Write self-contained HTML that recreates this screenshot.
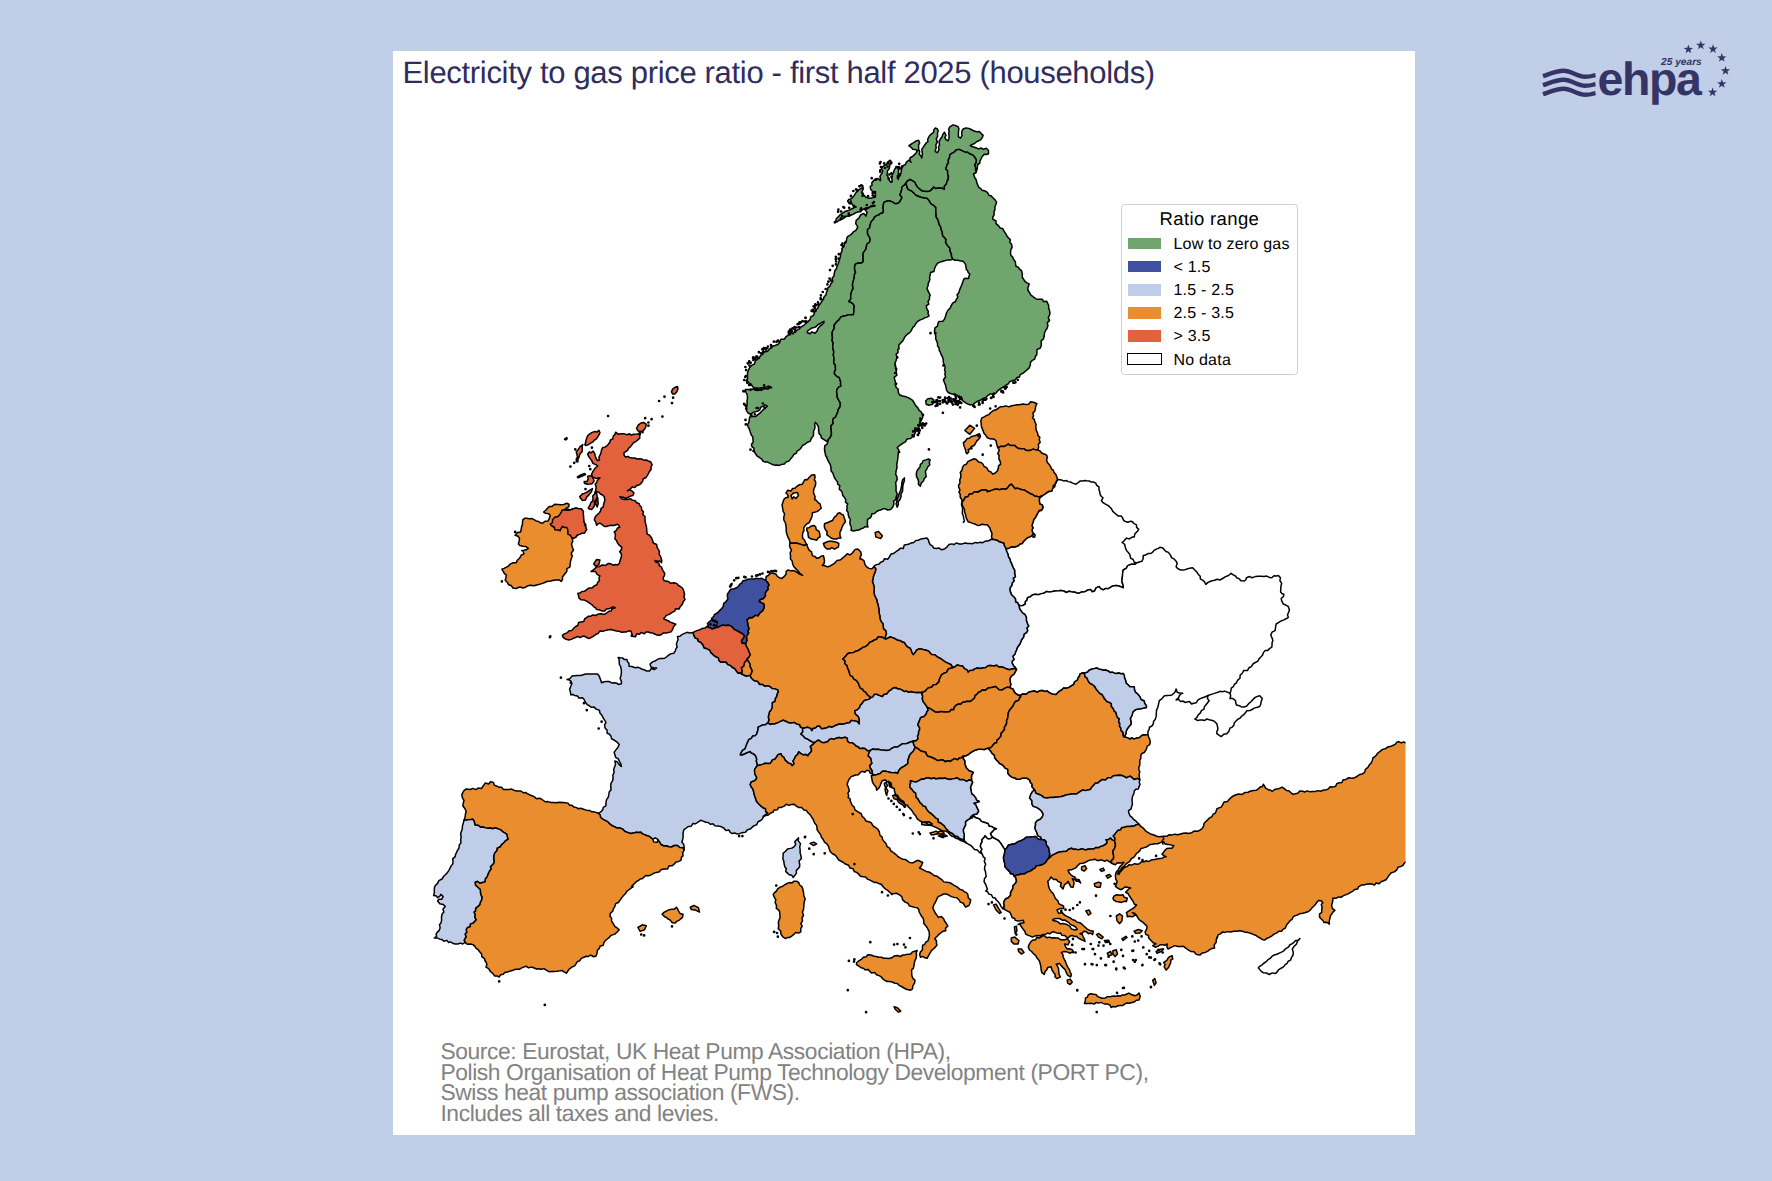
<!DOCTYPE html>
<html><head><meta charset="utf-8">
<style>
html,body{margin:0;padding:0}
body{width:1772px;height:1181px;background:#c1cee7;position:relative;overflow:hidden;font-family:"Liberation Sans",sans-serif;text-rendering:geometricPrecision}
#panel{position:absolute;left:393px;top:51px;width:1022px;height:1084px;background:#fff}
#title{position:absolute;left:402.5px;top:55px;font-size:31px;line-height:36px;color:#2f2d5e;white-space:nowrap;letter-spacing:-0.32px}
#map{position:absolute;left:0;top:0}
.c{stroke:#000;stroke-width:1.5;stroke-linejoin:round}
.l{stroke:#000;stroke-width:1.5;fill:none;stroke-linejoin:round}
.dot{stroke:#000;stroke-width:2.7;stroke-linecap:round;fill:none}
#legend{position:absolute;box-sizing:border-box;left:1120.9px;top:204.3px;width:177px;height:171px;border:1.2px solid #cfcfcf;border-radius:3.5px;background:#fff}
#legend .t{position:absolute;left:0;width:100%;top:3.4px;text-align:center;font-size:18.5px;line-height:20px;color:#000;letter-spacing:0.36px}
#legend .r{position:absolute;left:6px;height:12px}
#legend .s{position:absolute;left:0;top:0;width:33px;height:11.5px}
#legend .x{position:absolute;left:45.6px;top:-1.9px;font-size:16px;line-height:18px;white-space:nowrap;color:#000;letter-spacing:0.21px}
#src{position:absolute;left:440.4px;top:1040.9px;font-size:22.8px;line-height:20.75px;color:#828282;white-space:nowrap;letter-spacing:-0.386px}
#logo{position:absolute;left:0;top:0}
</style></head><body>
<div id="panel"></div>
<div id="title">Electricity to gas price ratio - first half 2025 (households)</div>
<svg id="map" width="1772" height="1181" viewBox="0 0 1772 1181">
<defs><clipPath id="cp"><rect x="393" y="51" width="1012.5" height="1084"/></clipPath></defs>
<g clip-path="url(#cp)">
<path class="c" fill="#ffffff" d="M1039.7,497.2 1041.47,496.76 1043.1,495.1 1045.14,494 1047.4,492.2 1049.33,491.58 1051.6,491.3 1052.9,487.9 1054.9,486.57 1055,484.5 1056.39,482.27 1057.5,479.5 1060.68,479.79 1063.8,480.9 1066.52,480.6 1068.21,481.62 1070.4,482 1072.62,483.15 1075.9,484.2 1077.47,483.22 1080.26,480.95 1082.5,480.9 1085,480.57 1086.56,480.82 1089.1,480.9 1091.19,482.07 1093.48,482.04 1095.7,483.1 1096.72,485.4 1098.98,486.97 1099,489.7 1099.71,491.63 1100.03,494.04 1101.2,496.3 1103,497.89 1101.41,500.72 1103.4,502.9 1105.52,504.06 1108.24,505.55 1110,507.3 1111.51,508.82 1112.8,511.34 1114.4,512.8 1116.25,514.45 1118.32,516.1 1121,516.1 1122.58,517.87 1123.78,520.67 1125.5,521.6 1127.81,522.2 1130.04,521.37 1132.1,521.6 1134.07,523.54 1136.5,524.9 1136.61,527.39 1138.7,529.3 1137.19,531.55 1134.76,534 1134.3,537 1132.24,537.05 1129.36,538.92 1126.6,538.1 1124.08,540.85 1122.1,542.5 1124.7,544.42 1125.5,548 1126.64,550.63 1128.3,552.54 1129.9,554.6 1130.56,558.11 1133.1,559.47 1134.3,562.3 1136.5,563 1135.16,564.14 1131.49,564.22 1129.58,564.88 1127.7,565.6 1126.47,568.03 1123.3,570 1122.8,572.03 1122.48,575.92 1122.1,578.8 1121.92,581.85 1122.98,584.53 1123.3,587.7 1121.25,586.79 1119.27,586.21 1116.6,585.5 1113.93,585.66 1112.35,586.14 1110,587.7 1107.86,588.81 1105.53,588.38 1103.4,589.9 1100.86,588.77 1099,586.6 1096.06,587.85 1094.6,591 1092.24,591.82 1090.58,589.6 1088,589.9 1085.96,591.2 1084.01,591.9 1081.3,592.08 1079.2,593.2 1076.51,592.97 1075.09,592.14 1072.6,592.1 1069.17,591.19 1066.45,592.49 1063.8,591 1061.11,590.45 1058.2,590.8 1055,591 1052.3,591.6 1049.7,592.11 1046.78,591.42 1044,593.2 1041.36,593.63 1038.62,594.66 1035.2,594.3 1032.27,595.05 1030.27,596.84 1027.5,597.6 1026.97,600.28 1025.39,601.48 1025.3,604.2 1022.76,605.46 1020.58,605.82 1018.7,605.3 1017.7,602.72 1015.68,601.94 1015.4,598.7 1013.63,596.71 1011.47,594.68 1010.37,591.88 1009.9,589.9 1010.17,587.59 1011.65,585.86 1012.1,583.3 1014.01,580.89 1013.23,578.29 1015.4,576.6 1014.64,573.68 1014.63,570.13 1013.2,567.8 1012.2,565.39 1011.69,563.95 1010.42,561.35 1009.9,559 1008.58,557.1 1007.8,553.8 1006.6,551.3 1005.9,548.5 1008.4,548.5 1010.62,547.02 1012.6,546.8 1014.52,546.92 1016.9,546.3 1018.52,545.55 1020.3,543.8 1022.14,543.61 1023.6,541.3 1026.2,538.7 1028.26,537.38 1030.4,536.6 1033.4,534.5 1032.5,532 1032.02,529.9 1033,527.7 1032.04,526.16 1032.5,523.5 1033.31,521.43 1033.8,519.3 1035.2,517.95 1036.3,515.9 1038,512.5 1039.53,510.25 1041.4,510.4 1043.1,507.4 1042.3,504.9 1039.7,504 1039.3,500.6 1039.7,497.2Z"/>
<path class="c" fill="#ffffff" d="M1136.5,563 1139.04,562.08 1142,561.2 1143.2,558.45 1143.1,555.7 1145.41,555.08 1148.39,553.4 1150.8,553.5 1152.92,551.91 1154.03,550.4 1156.3,549.1 1158.4,548.35 1159.9,547.28 1162.9,548 1164.81,550.22 1166.06,551.49 1168.4,552.4 1170.44,555.1 1171.7,557.9 1174.1,558.91 1176.1,561.2 1177.24,563.27 1176.1,566.7 1177.86,568.67 1180.5,570 1182.5,570 1184.91,569.7 1187.1,568.9 1189.69,568.33 1192.6,567.8 1194.84,570.08 1197,572.2 1197.96,574.01 1200.19,576.29 1200.3,578.8 1202.61,580.16 1204.48,581.78 1205.8,584.4 1208.07,582.36 1211.3,581 1214.54,580.21 1217.07,579.21 1220.1,579.9 1222.57,578.5 1225.6,576.6 1228.57,575.45 1231.1,573.3 1233.2,574.86 1235.45,575.96 1236.6,577.7 1238.98,578.65 1241.1,580.87 1244.3,581 1245.83,579.77 1246.5,577.7 1249.54,576.57 1251.98,577.74 1255.3,576.6 1258.12,576.21 1260.87,576.22 1264.1,576.6 1266.59,576.07 1269.59,577.43 1271.8,577.7 1274,575.7 1276.42,576.08 1278.4,575.5 1280.45,577.86 1279.93,580.72 1281.7,583.3 1280.96,585.91 1280.78,589.22 1280.6,592.1 1281.91,593.51 1283.9,594.3 1283.42,596.42 1281.21,598.56 1281.7,600.9 1283.17,603.94 1286.1,605.3 1288.19,606.38 1289.4,609.7 1288.79,612.04 1287.51,614.75 1288.3,617.4 1286.51,618.55 1283.79,619.86 1281.7,620.7 1279.17,622.23 1276.2,624 1275.77,625.87 1275.52,627.87 1275.1,630.6 1272.11,632.08 1270.7,635 1271.8,637.34 1272.9,640.5 1272.04,642.77 1272.01,645.36 1271.8,647.1 1269.82,648.36 1267.45,650.62 1265.2,650.4 1263.59,652.36 1262.6,654.9 1260.8,657 1259.01,658.86 1257.67,661.38 1255.3,662.5 1253.17,663.76 1251.32,666.58 1248.7,668 1247.66,670.43 1243.84,670.48 1242.1,673.5 1240.17,675.07 1239.95,678.24 1237.7,680.1 1236.24,683.15 1234.68,684 1233.3,686.7 1231.26,688.2 1230.9,690.91 1230,693.3 1230.7,695.71 1230,698.5 1232.81,698.54 1235.5,700.7 1235.78,703.22 1236.6,705.1 1239.31,705.7 1241,706.7 1243.82,707.01 1246.5,706.2 1248.43,703.93 1250.9,701.8 1253.5,698.9 1255.3,697.4 1257.42,696.4 1259.7,695.7 1262.3,698.5 1261.12,701.53 1260.8,704 1259.7,706.49 1257.5,707.3 1254.8,707.88 1252,709.5 1250.03,710.52 1246.83,710.74 1245.4,712.8 1243.47,714.98 1241.79,716.07 1239.9,718.3 1238,719.14 1236.28,720.77 1234.4,722.7 1233.79,725.38 1232.26,727.05 1230,728.2 1228.76,731.43 1226.7,733.7 1223.69,734.26 1221.2,736.6 1218.56,734.94 1216.8,733.7 1216.89,731.32 1217.9,729.3 1217.59,726.68 1216.8,723.8 1214.58,721.42 1212.4,720.5 1209.34,719.82 1206.9,719 1204.68,720.47 1202.55,720.09 1200.3,719.9 1198.01,720.59 1194.8,719 1196.99,717.43 1198.1,715 1200.2,713.11 1201.4,710.6 1203.95,709.08 1204.4,706.64 1205.8,705.1 1207.44,703.01 1209.1,700.7 1207.45,698.64 1208,695.4 1205.54,696.72 1202.5,697.7 1200.3,698.58 1198.1,699.9 1196.23,702.68 1193.7,703.2 1191.49,704.05 1189.55,701.56 1187.1,702.1 1185.32,702.49 1182.7,701 1180.52,701.62 1178.62,699.33 1176.1,699.9 1178.5,697.94 1179.4,695.5 1181.07,693.69 1182.7,693.3 1179.47,693.08 1177.2,692.2 1176.1,688.9 1175.27,691.61 1173.9,693.3 1171.87,695.05 1170.32,695.35 1167.3,695.5 1164.45,695.81 1161.8,698.8 1159.29,700.64 1158.5,704.3 1157.82,707.25 1156.56,710.12 1156.3,713.1 1156.18,716.38 1155.2,719.4 1153.62,721.15 1153.29,723.86 1151.9,726 1149.49,727.28 1149,729.93 1147.9,731.5 1147.9,734.4 1145.77,734.88 1143.1,734.8 1140.97,736.23 1139.31,737.82 1136.5,738.1 1134.09,738.99 1131.59,737.89 1129.9,739.2 1127.31,737.61 1124.4,737 1125.9,733.7 1126.18,731.05 1127.7,728.2 1129.38,726.06 1130.93,724.43 1131,721.6 1130.32,718.49 1132.1,715.2 1132.87,711.9 1135.4,709.8 1138.18,708.9 1140.9,708.7 1143.46,708.11 1146.4,707.6 1146.39,705.76 1144.65,703.35 1144.2,701 1141.03,699.53 1139.8,696.6 1137.93,694.23 1135.4,692.2 1134.4,689.45 1134.3,686.7 1131.68,686.73 1129.9,686.7 1127.76,684.49 1126.12,683.19 1125.5,680.1 1124.61,677.95 1124.27,675.51 1123.3,673.5 1120.9,673.72 1118.75,673.01 1116.6,673.5 1114.41,673.17 1112.36,672.16 1110,672.4 1108.23,670.95 1105.38,670.06 1103.4,670.2 1101.14,669.51 1099.06,669.13 1096.8,668 1094.13,668.62 1091.48,669.27 1089.1,670.2 1087.43,672.21 1085.18,672.81 1082.5,673 1080.11,673.87 1079.62,675.7 1078.1,677.9 1077.37,680.15 1074.61,681.78 1073.7,684.5 1070.84,686.15 1068.2,687.8 1065.92,688.18 1063.58,688.08 1061.6,690 1059.22,691.42 1057.46,693.04 1056.1,694.4 1053.49,694.2 1051.04,693.54 1049.22,692.61 1047.3,691.1 1044.81,691.42 1042.3,690.45 1039.4,690.77 1037.4,692.2 1034.42,691 1031.3,691.55 1028.6,692.2 1026.37,694.32 1022.75,693.94 1020.9,695.1 1018.57,695.23 1016.23,694 1014.3,692.1 1013.11,689.27 1009.9,687.7 1010.79,684.35 1010.13,681.43 1009.9,678.8 1011.24,676.05 1014.13,674 1015.06,672.11 1016.5,669.4 1015.15,667.36 1013.67,665.95 1012.24,663.36 1012.1,661.2 1014.08,659.47 1012.77,656.29 1015.1,654.06 1015.46,652.28 1016.5,650.2 1017.05,647.95 1018.41,646.01 1020.05,643.7 1020.9,641.4 1021.85,639.13 1023.52,637.24 1024.1,634.02 1026.4,632.6 1027.68,630.65 1026.85,628.08 1028.7,626 1027.35,623.63 1026.33,620.1 1026.4,617.2 1024.77,614.38 1022.71,613.14 1020.9,610.6 1019.59,608.83 1019.19,606.38 1017.6,604 1020.58,605.82 1022.76,605.46 1025.3,604.2 1025.39,601.48 1026.97,600.28 1027.5,597.6 1030.27,596.84 1032.27,595.05 1035.2,594.3 1038.62,594.66 1041.36,593.63 1044,593.2 1046.78,591.42 1049.7,592.11 1052.3,591.6 1055,591 1058.2,590.8 1061.11,590.45 1063.8,591 1066.45,592.49 1069.17,591.19 1072.6,592.1 1075.09,592.14 1076.51,592.97 1079.2,593.2 1081.3,592.08 1084.01,591.9 1085.96,591.2 1088,589.9 1090.58,589.6 1092.24,591.82 1094.6,591 1096.06,587.85 1099,586.6 1100.86,588.77 1103.4,589.9 1105.53,588.38 1107.86,588.81 1110,587.7 1112.35,586.14 1113.93,585.66 1116.6,585.5 1119.27,586.21 1121.25,586.79 1123.3,587.7 1122.98,584.53 1121.92,581.85 1122.1,578.8 1122.48,575.92 1122.8,572.03 1123.3,570 1126.47,568.03 1127.7,565.6 1129.58,564.88 1131.49,564.22 1135.16,564.14 1136.5,563Z"/>
<path class="c" fill="#ffffff" d="M963.7,755.9 965.87,755.75 968.5,754.46 970.91,752.34 972.5,751.5 975.76,749.91 978.23,749.17 981.3,749.3 984.29,749.58 985.61,748.66 987.9,748.2 989.74,749.99 990.95,751.68 992.3,753.7 994.55,755.31 994.65,757.8 996.7,760.3 998.47,761.78 999.37,763.42 1002.2,764.7 1003.79,766.29 1005.38,768.36 1007.7,769.1 1007.91,771.29 1007.81,773.23 1009.9,775.7 1011.81,777.29 1014.25,777.64 1016.5,779 1019.16,779.35 1021.82,778.36 1024.2,777.9 1027.28,778.33 1029.8,780.1 1030.35,782.28 1032.17,784.21 1032,786.7 1033.89,788.96 1035.3,790.9 1032.17,792.05 1030.8,794.4 1029.6,797.9 1031.98,800.75 1031.9,803.9 1033.29,806.37 1036.7,807.4 1039.25,809.02 1041.4,811 1042.44,812.64 1043.2,814.5 1042.1,817.19 1040.2,819.3 1037.29,820.63 1035.5,822.8 1035.56,824.9 1034.9,827.6 1035.63,830.04 1036.7,832.3 1037.9,835.9 1040.84,837.14 1041.4,839.4 1039.02,839.43 1036.9,838.04 1035.5,836.5 1032.95,836.81 1029.6,837.1 1026.42,837.18 1023.6,839.4 1020.4,840.98 1017.7,841.8 1014.84,843.79 1011.8,844.2 1008.26,845.3 1007,847.7 1005.09,849.51 1004.7,852.5 1004.79,849.6 1003.5,847.7 1001.93,845.15 1000.5,843 998.72,840.74 996.4,839.4 994.37,838.27 992.6,837.1 991.06,835.21 990.4,833.5 992.8,831.1 994.47,829.22 996.4,828.8 993.64,828.03 991.6,826.4 989.09,826.16 988.21,823.79 985.7,822.8 983.19,822.09 981.38,821.33 979.8,819.3 977.45,818.19 975.22,817.51 973.8,815.7 972.04,818.09 969.7,818.7 970.9,816.71 972.6,815.1 974.21,814.44 976.8,814 978.6,811 977.68,809.09 976.8,807.4 975.83,805.03 973.8,803.3 976.48,802.45 979.2,801.5 976.58,800.06 975.6,797.9 973.61,795.16 972.1,794.4 971.42,792.41 970.9,789.6 970.44,787.67 971.33,785.12 972.57,782.23 971.5,780.4 971.45,778.25 971.5,775.4 973.2,772.5 971.13,771.45 969.1,770.7 966.47,768.09 965.5,765.9 964.83,763.38 964.69,760.71 963.09,758.56 963.8,755.8Z"/>
<path class="c" fill="#ffffff" d="M969.7,818.7 972.04,818.09 973.8,815.7 975.22,817.51 977.45,818.19 979.8,819.3 981.38,821.33 983.19,822.09 985.7,822.8 988.21,823.79 989.09,826.16 991.6,826.4 993.64,828.03 996.4,828.8 994.47,829.22 992.8,831.1 990.4,833.5 991.06,835.21 992.6,837.1 990.79,838.52 988.1,838.9 986.58,837.72 985.1,835.9 984.17,837.35 981.95,839.66 982.1,841.8 980.75,844.2 980.4,846.6 981.94,849.12 980.82,851.79 982.1,853.7 979.66,852.64 977.4,850.1 974.47,849.56 972.6,847.2 970.84,845.36 969.03,844.55 966.7,843.2 964.3,840.9 963.91,837.41 964.3,834.7 963.6,832.67 963.2,830 964.15,827.72 965.5,825.2 965.5,821.7 967.37,820.17 969.7,818.7Z"/>
<path class="c" fill="#ffffff" d="M982.1,853.7 983.22,856.64 985.1,858.4 984.28,861.43 985.7,864.3 984.8,866.48 984.5,869.1 985.49,871.61 985.7,873.8 986.24,876.6 984.5,878.6 984.07,881.68 985.7,884.5 986.58,887.08 987.5,889.2 985.7,891 987.58,891.7 988.7,894 991.45,894.77 992.8,897.5 995.1,898.03 996.4,900 998.52,902.09 999.9,904.1 1001.01,906.42 1003,908.8 1004.38,906.11 1003.64,903.07 1004.7,900 1005.9,898.7 1008.34,897.75 1010.6,895.2 1010.55,892.57 1011.8,890.4 1012.89,888.42 1013,885.7 1015.67,883.04 1016.5,880.9 1015.86,877.78 1014.2,876 1012.94,873.82 1010.6,873.8 1009.5,871.39 1007,869.1 1004.93,866.52 1004.7,863.2 1003.78,860.08 1003.5,857.2 1004.32,854.42 1004.7,852.5 1004.79,849.6 1003.5,847.7 1001.93,845.15 1000.5,843 998.72,840.74 996.4,839.4 994.37,838.27 992.6,837.1 990.79,838.52 988.1,838.9 986.58,837.72 985.1,835.9 984.17,837.35 981.95,839.66 982.1,841.8 980.75,844.2 980.4,846.6 981.94,849.12 980.82,851.79 982.1,853.7Z"/>
<path class="c" fill="#ffffff" d="M1258.4,967.7 1259.61,966.33 1261.72,965.15 1263.5,963.5 1265.84,961.98 1267.76,959.97 1270.2,958.4 1272.02,956.3 1274.17,954.94 1277,954.2 1279.25,953.15 1281.46,952.07 1283.8,950.8 1285.28,948.95 1287.17,947.9 1288.9,946.6 1289.6,945 1292.28,943.58 1293.9,942.3 1295.64,940.41 1298.36,940.35 1299.9,938.6 1297.39,941.1 1296.5,944 1295.04,945.51 1293.51,947.09 1292.3,949.1 1293.28,952.25 1293.1,955 1291.57,957.34 1290.6,960.1 1288.16,961.22 1287.15,963.28 1285.5,964.3 1283.95,966.37 1281.92,967.77 1280.4,968.6 1278.47,969.95 1277.24,971.89 1275.3,973.6 1272.17,972.86 1269.4,974.5 1266.39,972.99 1263.5,972.8 1260.97,971.14 1259.61,969.37Z"/>
<path class="c" fill="#70a56e" d="M748.6,369.9 749.73,367.6 752.07,365.05 754.56,363.81 755.2,360.9 757.68,359.13 759.4,358.07 760.1,356.04 763.01,353.75 764,352.1 767.6,351.34 768.91,349.78 770.55,348.15 772.15,346.28 775,345.5 777.88,344.49 779.77,342.38 780.87,339.27 784.39,339.13 786,336.7 787.66,335.54 790.05,332.87 793.14,333.78 795.17,331.58 797,330.1 799.45,328.84 801.21,326.81 804.09,325.07 805.8,323.5 807.7,321.83 809.85,319.9 810.98,316.36 813.25,315.76 814.6,312.5 815.54,310.47 817.73,308.1 819.07,304.99 820.44,303.63 821.79,301.3 823.4,299.3 824.11,296.76 825.85,295.12 826.39,292.76 827.4,290.37 827.78,287.85 830,286.1 830.88,283.54 832.71,281.77 832.19,278.04 833.88,276.16 834.4,272.9 834.88,270.5 836.6,268.55 836.81,266.41 837.86,264.88 838.8,261.9 839.65,259.3 840.41,256.32 840.82,253.36 842.1,250.9 841.83,248.68 844.32,245.77 844.2,243.56 845.75,242.34 846.6,239.9 846.6,238.7 847.83,236.39 849.8,235.4 851.55,234.16 853,232.2 856.2,230.1 857.8,226.8 855.7,223.6 856.2,220.4 858.9,218.2 860.5,215 863.8,213.4 865.9,216.1 866.48,214.34 867,212.3 864.8,209.6 866.82,209.24 868.1,207.5 870.19,207.06 872.4,206.4 875.1,205.9 874.3,205.3 870.8,206.1 868.93,208.08 866.5,207.7 864.22,208.63 862.2,209.8 860.6,211.65 857.8,212 855.39,212.84 853.5,214.1 851.38,215.01 849.2,215.9 846.25,216.23 844.9,217.4 842.88,218.73 841.2,219.7 838.79,220.41 837.4,221.7 835.6,222 836.3,218.8 839,216.1 840.4,214.6 842.3,213.4 845.5,211.2 849.2,210.2 852.5,208.5 854.63,207.26 856.2,206.9 853,205.3 851.73,203.46 849.2,203.7 847.6,201 849.04,199.21 850.9,198.9 852.12,198.07 854.1,195.6 856.2,192.4 857.75,190.93 859.5,189.2 861.96,188.15 862.7,185.4 863.2,189.2 861.6,192.4 863.8,195.1 865.9,197.3 869.1,198.3 872.9,197.8 875.6,195.1 874.5,192.4 871.3,190.3 870.45,188.53 870.2,186.5 872.05,185.21 871.8,182.7 873.06,181.23 874.5,179.5 877.7,178.4 880.4,180.6 880.39,178.31 879.9,176.3 882,173.1 882.78,171.02 881.5,168.8 882.29,167.05 884.2,165.5 886.66,164.53 887.4,162.3 890.1,160.2 891.7,162.3 889.95,164.59 889.6,166.6 889.09,168.84 887.4,170.9 887.36,173.05 886.9,175.2 889,178.4 889.23,180.08 890.6,182.2 892.3,181.7 891.7,177.9 892.13,174.96 893.3,173.1 893.87,170.99 894.9,168.8 897.1,166.6 898.7,169.8 898.37,172.83 899.2,175.2 898.49,176.83 898.2,179.5 898.74,177.16 900.3,175.2 901.06,172.22 901.4,169.8 901.95,167.51 903.5,165.5 905.66,164.37 906.2,162.3 908.9,160.2 911.1,162.3 909.96,160.45 910,158 913.2,155.9 915.9,153.2 917.5,150.5 914.8,149.4 912.78,149.16 911.1,147.3 908.9,145.6 910.4,144.59 912.2,143.5 915.4,141.3 918.6,140.3 919.7,143 918.52,145.1 918.6,147.3 918.68,149.53 919.7,151.6 919.25,154.13 920.8,155.9 921.8,158 922.11,155.54 922.4,153.7 922.07,151.44 921.8,149.4 924,146.2 926.1,143 927.94,141.72 927.7,139.2 929.4,136 931.5,133.8 933.77,132.16 933.7,130.1 935.3,127.9 937.4,129 938.22,131.1 937.4,133.3 937.65,136.28 936.3,138.7 937.25,141.92 935.8,145.1 936.24,147.6 935.58,149.66 935.3,151.6 937.4,152.6 939.03,149.63 938.5,147.3 939.52,144.89 939,141.9 940.6,138.7 941.93,137.1 942.8,134.4 944.4,132.2 946,135.4 944.85,137.57 946,139.7 948.2,140.8 948.81,138.66 949.2,136.5 948.74,133.66 949.2,131.1 948.57,129.27 949.8,126.8 953,124.9 956.2,125.8 958.21,126.85 958.9,129 958.43,131.81 958.4,134.4 958.48,136.97 960.5,138.1 962.08,135.47 961.6,133.3 962.07,130.6 963.2,129 965.9,127.9 968.84,128.38 971.3,129.5 974.22,131.09 976.7,131.7 979.56,131.62 981,133.3 983.1,135.4 982,138.1 980.82,139.52 978.8,140.8 976.58,141.74 974.5,143.5 972.16,144.48 970.2,145.6 971.87,146.5 974.5,147.3 976.39,147.99 978.8,148.9 981.06,147.95 983.1,149.4 986.3,148.3 988.5,150.5 988.5,153.7 986.54,154.6 984.2,154.2 982,156.9 981.2,158.47 979.9,161.2 979.71,163.33 977.7,164.5 977.4,167.12 977.2,168.8 976.1,172.5 973.4,174.1 976.1,172 975.47,169.83 975.6,167.7 974.65,164.9 976.1,162.3 976.21,159.67 975.1,158 973.98,156.19 972.4,154.8 969.78,154.03 968.1,152.6 966,152.36 963.8,151.6 961.37,150.44 959.5,149.4 956.52,149.73 954.1,152.1 951.43,153.66 949.8,154.8 949.54,157.58 948.2,160.2 948.54,162.61 947.19,164.46 946.6,166.6 945.75,168.94 947.7,170.71 947.6,173.1 948.39,176.12 948.2,179.5 946.78,181.68 946.6,183.8 944.34,186.17 944.4,189.2 941.92,188.33 939,188.1 935.65,188.59 933.7,187 931.87,189.44 929.4,191.3 926.97,191.47 924,191.3 921.65,190.76 919.7,189.2 917.62,187.31 915.9,184.9 915.12,182.76 913.2,181.1 910,179.5 907.3,181.1 906.17,182.8 904.6,184.9 901.9,187 901.69,189.73 900.9,192.4 899.91,195.06 901.99,197.25 900.9,199.9 899.64,201.77 898.2,203.2 895,203.77 892.8,202.1 889.94,201 887.4,201 884.2,202.1 883.35,204.57 883.1,207.5 883.34,210.1 883.1,212.8 880.53,213.41 878.8,215 876.64,215.61 874.5,217.2 873.36,219.42 871.3,221.5 870.57,223.33 869.97,225.7 869.7,227.9 867.66,229.26 867.5,232.2 867.63,234.02 869.1,236.5 870.17,238.86 869.7,242 866.78,244.27 866.4,246.5 866.13,248.84 864.29,251.43 863.1,253.1 863.12,255.98 863.15,258.74 863.1,261.9 860.75,263.32 858.1,263.02 855.4,264.1 854.64,266.15 854.6,269.22 855.59,272.34 854.51,274.08 854.3,277.3 853.6,280.1 852.76,282.86 852.44,285.25 853.2,288.3 851.92,290.49 850.95,293.93 850.7,296.11 850.83,298.88 848.8,301.5 850.53,302.16 852.91,303.63 854.3,305.9 853.96,308.64 853.97,311.86 853.2,314.7 851.05,314.67 848.25,314.83 845.76,315.75 843.05,316.2 841,316.9 839.12,319.67 836.95,321.6 835.5,323.5 834.08,325.3 834.45,327.83 833.19,330.03 832.2,332.3 832.2,335.39 832.48,338.21 832.06,340.66 833.3,343.3 832.64,346.28 832.96,348.22 833.87,352.21 833.3,354.3 833.75,356.9 834.11,359.48 833.65,362.94 835.26,364.82 835.47,367.72 835.5,369.9 834.4,371.8 834.58,374.11 836.61,376.29 839.15,377.36 839.9,379.5 840.74,381.97 840.49,384.04 841,386.1 838.66,387.11 837.11,389.2 836.6,391.6 837.19,394.94 837.07,396.89 838.8,400.4 840.19,402.72 840.39,404.94 839.9,407 838.38,409.25 837.85,411.66 836.6,414.7 835.56,417.05 833.74,418.22 832.7,420.2 833.19,423.23 830.93,425.94 831.1,429 831.35,432.09 831.5,434.69 830,437.8 828.32,439.49 827.8,442.2 825.9,440.9 823.6,439.36 821.2,437.8 821.14,435.66 819.09,433.62 818.6,431.2 818.59,428.66 818.5,427 817.3,424.6 815.3,422.4 814.67,424.45 814.98,427.04 814.6,429 813.53,431.24 813.47,433.68 813.5,435.6 811.55,438.02 810.2,441.1 807.17,442.47 804.7,444.4 802.45,445.5 801.21,447.81 799.2,449.9 797.19,450.89 796.27,453.35 793.99,454.21 792.6,456.6 790.47,459.14 789.12,460.89 786,462.1 784.31,464.12 781.96,464.37 779.4,465.4 777.08,465 775.68,465.21 772.8,464.7 770.59,463.56 767.59,462.1 765.1,462.1 762.76,461.01 762,459.32 759.6,457.7 757.26,456.2 755.2,453.3 754.01,450.94 753.84,448.13 751.9,446.6 751.45,444.2 753.21,442.15 753,440 752.79,436.85 751.41,435.3 750.8,433.4 750.13,431.66 749.37,429.1 748.12,426.73 747.5,424.6 749.04,422.05 749.33,419.21 749.7,416.9 752.23,416.54 755.6,416.56 757.9,414.7 759.92,413.22 761.7,411.18 763.61,409.31 764.97,408.34 767.3,406.2 765.1,404.8 763.52,406.27 761.04,406.86 759.77,409.81 758.22,410.99 755.2,411.9 752.78,412.59 750.96,413.91 748.2,413.2 746.4,410.45 746.4,407 747.23,403.81 746.94,401.12 747.5,398.2 747.29,395.02 745.85,392.23 745.3,389.4 747.8,389.53 750.14,389.6 753.11,388.9 754.76,389.85 757.4,390.5 759.73,389.98 761.76,390.27 764.32,388.33 766.83,388.97 769.19,387.82 771.7,387.7 768.4,386.1 765.67,387.34 763.41,387.58 760.54,387.63 758.12,389.03 755.2,388.3 752.61,386.63 751.15,384.05 748.98,382.86 746.4,380.6 747.58,378.46 747.5,375.1 747.54,372.65 748.6,369.8Z"/>
<path class="c" fill="#70a56e" d="M907.3,181.1 905.9,183.25 906.8,186 907.67,188.8 910,190.3 912.11,191.15 914.3,193.5 916.13,195.22 918.6,196.2 921.16,197.23 924,197.8 927.17,198.29 929.4,201 930.87,203.65 933.7,205.3 935.89,207.61 935.8,210.7 935.98,212.84 936.04,214.59 936.3,217.2 937.54,219.18 938.5,221.5 939.06,224.15 940.6,226.8 941.29,229.77 942.3,232.2 942.57,235.46 944.4,237.6 946.17,239.72 945.5,242 946.7,244.3 948.07,246.15 949.92,248.05 950,250.9 951.35,253.73 951.61,256.61 952.9,259.2 950.16,260.09 947.01,260.11 944.5,260.8 942.85,261.28 940.12,262.15 937.9,263 935.77,265.8 934.6,268.5 933.99,271.57 930.49,272.5 930.2,275.1 929.53,277.41 929.87,279.5 929.1,281.7 928.35,282.77 928.05,285.79 926.9,288.3 927.91,290.6 928.97,292.89 930.2,294.9 929.44,297.09 929.49,299.36 928,301.5 928.83,304.15 926.21,305.86 926.9,309.2 928.39,311.31 927.95,313.28 929.1,315.8 927.05,317.1 924.65,317.88 922.5,319.1 920.25,319.9 917.62,321.39 915.9,323.5 914.4,326.21 912.73,327.47 911.5,330.1 910.33,331.97 908.63,333.41 906.81,334.69 904.9,336.7 903.63,339.42 902.46,341.33 900.5,343.3 898.71,345.33 899.12,348.75 897.78,349.37 898.15,352.4 896.1,354.3 896.96,357.12 896.02,360.8 895,363.1 895.5,365.43 895.81,367.98 896.1,369.9 895.52,368.18 895.34,365.72 895,363 895,365.7 896.7,369.1 896.1,371.8 896.88,375.22 894.19,377.43 895,380.6 895.6,382.85 895.27,384.4 896.1,387.2 898.2,389.23 898.3,392.7 899.82,395.02 902.7,396 905.13,396.55 907.1,397.1 909.91,398.5 912.6,400.4 914.26,403.01 915.9,405.9 917.68,407.6 919.2,410.3 921.39,412.17 922.5,414.7 922.77,417.29 921.4,420.2 919.69,422.24 921.34,424.16 919.2,426.8 917.43,428.65 915.9,431.2 914.48,434.44 912.6,436.7 910.36,438.59 907.1,438.9 905.4,441.86 902.7,443.3 900.9,444.7 899.29,445.74 897.2,447.7 898.9,450.15 898.3,453.3 898.04,456.05 897.7,459.35 897.2,462.1 896.73,464.94 897.1,467.38 896.1,470.9 895.7,474.46 896.87,476.64 897.2,479.7 895.63,482.6 896.06,486 896.1,488.5 896.04,491.08 897.3,493.99 896.1,497.3 895.79,499.7 893.56,501.14 893.9,503.9 892.72,507.14 890.6,509.4 887.62,510.01 885.1,508.7 882.83,508.85 880.7,510.07 878.5,510.5 876.53,511.69 874.48,513.55 871.9,513.8 871.25,516.46 870.06,518.02 867.5,519.3 867.48,522.04 867.35,524.1 867.9,527 865.26,526.58 863.1,528.1 861,528.82 858.89,530.01 856.5,530.3 853.52,531.02 851,530.3 851.44,527.67 850.73,525.73 849.9,523.7 849.95,521.51 850.4,519.42 848.8,517.1 848.35,515.06 847.98,512.06 846.6,510.5 847.08,508.39 846.95,505.84 847.7,503.9 845.49,502.16 845.74,499.63 844.4,497.3 842.73,495.55 842.29,492.61 841,490.7 839.23,489.17 839.8,485.62 837.7,484.1 837.41,481.69 835.51,479.38 834.4,477.5 833.67,475.45 832.7,472.84 831.1,470.9 830.97,467.8 830.5,465.11 828.9,462.1 827.48,459.62 826.89,457.52 825.6,455.5 825.17,453.11 824.67,450.96 824.5,448.8 824.85,445.7 826.81,444.4 827.8,442.2 828.32,439.49 830,437.8 831.5,434.69 831.35,432.09 831.1,429 830.93,425.94 833.19,423.23 832.7,420.2 833.74,418.22 835.56,417.05 836.6,414.7 837.85,411.66 838.38,409.25 839.9,407 840.39,404.94 840.19,402.72 838.8,400.4 837.07,396.89 837.19,394.94 836.6,391.6 837.11,389.2 838.66,387.11 841,386.1 840.49,384.04 840.74,381.97 839.9,379.5 839.15,377.36 836.61,376.29 834.58,374.11 834.4,371.8 835.5,369.8 835.47,367.72 835.26,364.82 833.65,362.94 834.11,359.48 833.75,356.9 833.3,354.3 833.87,352.21 832.96,348.22 832.64,346.28 833.3,343.3 832.06,340.66 832.48,338.21 832.2,335.39 832.2,332.3 833.19,330.03 834.45,327.83 834.08,325.3 835.5,323.5 836.95,321.6 839.12,319.67 841,316.9 843.05,316.2 845.76,315.75 848.25,314.83 851.05,314.67 853.2,314.7 853.97,311.86 853.96,308.64 854.3,305.9 852.91,303.63 850.53,302.16 848.8,301.5 850.83,298.88 850.7,296.11 850.95,293.93 851.92,290.49 853.2,288.3 852.44,285.25 852.76,282.86 853.6,280.1 854.3,277.3 854.51,274.08 855.59,272.34 854.6,269.22 854.64,266.15 855.4,264.1 858.1,263.02 860.75,263.32 863.1,261.9 863.15,258.74 863.12,255.98 863.1,253.1 864.29,251.43 866.13,248.84 866.4,246.5 866.78,244.27 869.7,242 870.17,238.86 869.1,236.5 867.63,234.02 867.5,232.2 867.66,229.26 869.7,227.9 869.97,225.7 870.57,223.33 871.3,221.5 873.36,219.42 874.5,217.2 876.64,215.61 878.8,215 880.53,213.41 883.1,212.8 883.34,210.1 883.1,207.5 883.35,204.57 884.2,202.1 887.4,201 889.94,201 892.8,202.1 895,203.77 898.2,203.2 899.64,201.77 900.9,199.9 901.99,197.25 899.91,195.06 900.9,192.4 901.69,189.73 901.9,187 904.6,184.9 906.17,182.8 907.3,181.1ZM917,470.9 918.31,468.97 920.22,466.64 920.3,464.3 922.04,463.27 923.19,460.61 925.8,459.9 928.43,459.05 930.2,459.9 929.29,461.89 929.77,464.99 928,466.5 926.66,469.3 925.38,471.29 925.8,474.2 926.22,476.72 924.14,478.65 923.6,480.8 921.36,483.05 920.3,486.3 918.29,484.06 918.64,481.79 918.1,479.7 916.51,476.69 916.35,473.42ZM896.1,503.9 896.79,500.89 897.19,498.87 898.51,495.85 899.4,492.9 900.63,490.19 901.23,488.03 901.71,484.79 901.83,482.47 902.7,479.7 904.4,477.9 904.36,481 903.63,482.71 902.92,485.35 902.7,488.5 902.59,491.22 901.03,494.01 901.06,496.84 900,499.5 898.17,501.69 898.36,504.46 897.2,507.2Z"/>
<path class="c" fill="#70a56e" d="M907.3,181.1 910,179.5 913.2,181.1 915.12,182.76 915.9,184.9 917.62,187.31 919.7,189.2 921.65,190.76 924,191.3 926.97,191.47 929.4,191.3 931.87,189.44 933.7,187 935.65,188.59 939,188.1 941.92,188.33 944.4,189.2 944.34,186.17 946.6,183.8 946.78,181.68 948.2,179.5 948.39,176.12 947.6,173.1 947.7,170.71 945.75,168.94 946.6,166.6 947.19,164.46 948.54,162.61 948.2,160.2 949.54,157.58 949.8,154.8 951.43,153.66 954.1,152.1 956.52,149.73 959.5,149.4 961.37,150.44 963.8,151.6 966,152.36 968.1,152.6 969.78,154.03 972.4,154.8 973.98,156.19 975.1,158 976.21,159.67 976.1,162.3 974.65,164.9 975.6,167.7 975.47,169.83 976.1,172 973.4,174.1 974.79,177.64 976.1,179.5 976.6,181.81 977.7,184.9 978.58,187.09 980.84,188.73 982,190.3 985.28,191.06 987.4,192.4 988.94,195.25 991.31,195.97 992.8,197.8 994.7,199.43 996.6,202.1 995.91,204.56 994.94,206.81 994.9,209.6 994.05,211.64 994.1,214.79 992.8,217.2 992.72,219.15 996.03,220.98 996,223.6 998.68,225.91 1000,227.9 1002.8,228.63 1003.9,231 1005.75,233.63 1006.77,235.73 1008.3,237.7 1010.33,239.61 1009.85,242.5 1011.6,244.3 1012.13,247.65 1010.83,249.62 1010.5,253.1 1010.87,255.24 1012.77,257.31 1013.8,259.7 1015.35,261.77 1015.59,264.45 1016,266.3 1018.52,267.42 1019.7,269.33 1021.5,270.7 1022.34,273.66 1022.26,277.26 1023.7,279.5 1025.13,281.54 1026.93,282.82 1029.2,283.9 1028.42,286.18 1027.73,288.37 1028.1,290.5 1029.8,293.02 1030.98,295.05 1033.6,297.1 1036.27,299 1038.97,299.33 1042.4,299.3 1043.41,301.47 1046.75,301.24 1047.9,303.7 1048.76,305.57 1048.63,308.11 1049.5,310.3 1049.98,313.05 1049.45,315.36 1048.25,317.56 1049.58,320.59 1047.24,322.67 1047.9,325.7 1046.97,328.46 1045.71,330.23 1044.49,332.98 1044.15,336.21 1043.5,338.9 1041.08,341.05 1041.37,343.14 1041.23,345.56 1040.31,347.97 1036.91,349.63 1036.9,352.1 1036.79,354.83 1035.37,356.54 1034.7,359.18 1032.23,360.39 1030.44,362.38 1030.3,365.3 1029.03,368.1 1027,369.9 1024.8,371.8 1022.68,373.43 1020.29,374.61 1019.3,377.3 1017.31,377.15 1015.16,380.02 1012.7,380.6 1009.51,381.73 1008.44,383.77 1006.1,385 1004.42,386.83 1001.44,388.03 999.5,389.4 997.61,391.04 995.7,393.38 992.9,393.8 990.31,393.93 987.99,395.34 986.3,397.1 983.12,398.54 980.8,400 977.6,401.09 975.3,402.6 972.85,404.78 969.8,404.8 967.86,404.05 965.4,402.6 962.56,400.66 961,398.2 958.48,396.45 956.6,394.9 953.54,394.22 951.1,393.8 948.21,392.47 946.7,390.5 946.05,387.84 945.64,385.37 944.5,382.8 943.44,379.72 945.51,376.97 944.9,374 945.35,371.99 944.5,369.8 945.2,367.62 944.5,365.3 943.28,362.48 943.26,359.48 942.3,356.5 940.9,354.14 940.28,351.87 939.23,350.52 939,347.7 937.58,346.05 937.56,343.58 936.77,341.32 935.7,338.9 935.82,335.76 934.51,332.7 934.6,330.1 934.94,327.76 937.49,326.03 937.9,323.5 938.9,321.43 942.77,321.32 944.5,319.1 945.38,316.81 946.11,314.11 946.7,312.5 947.99,310.24 950.15,308.07 951.1,305.9 952.63,303.17 955.5,301.5 956.26,299.6 957.82,297.08 956.99,294.65 958.8,292.7 959.29,290.91 960.24,288.3 961.37,285.78 962.1,283.9 963.32,280.54 964.3,278.4 966.44,278.37 968.7,278.4 968.96,276.27 969.8,274 968.18,272.49 967.6,270.7 966.33,269.45 965.9,266.11 965.4,264.1 963.42,261.59 959.9,260.8 957.31,260.13 954.79,260.23 952.9,259.2 951.61,256.61 951.35,253.73 950,250.9 949.92,248.05 948.07,246.15 946.7,244.3 945.5,242 946.17,239.72 944.4,237.6 942.57,235.46 942.3,232.2 941.29,229.77 940.6,226.8 939.06,224.15 938.5,221.5 937.54,219.18 936.3,217.2 936.04,214.59 935.98,212.84 935.8,210.7 935.89,207.61 933.7,205.3 930.87,203.65 929.4,201 927.17,198.29 924,197.8 921.16,197.23 918.6,196.2 916.13,195.22 914.3,193.5 912.11,191.15 910,190.3 907.67,188.8 906.8,186 905.9,183.25 907.3,181.1ZM925.7,401 927.8,398.8 931.6,398.3 933.8,399.9 932.7,404.2 928.9,405.3 926.2,404.2Z"/>
<path class="c" fill="#e98d2f" d="M790,543 792.56,543.25 795.34,542.96 798.1,543.5 801.43,544.62 803.61,545.4 806.9,544.6 805.54,542.68 804.7,540.2 802.6,538.18 802.5,534.7 802.9,532.48 804.06,530.6 803.6,528.1 805.09,525.69 806.9,523.7 809.33,522.58 810.21,520.35 811.3,518.2 812.19,515.72 812.4,512.7 814.53,512.22 816.8,511.6 818.92,510.26 821.2,508.3 820.62,506.16 820.1,503.9 818.07,502.61 816.41,500.39 814.6,499.5 815.13,496.82 813.55,493.05 813.5,490.7 814.11,488.28 815.52,485.32 815.7,481.9 814.32,479.78 815.12,476.96 814.6,474.8 811.61,474.93 809.1,477.5 807.28,479.66 804.95,479.54 803.6,481.9 802.19,484.28 799.37,484.64 797,486.3 794.97,488.15 792.6,488.5 790.9,491.07 787.76,490.29 786,492.9 787.73,494.71 788.2,497.3 785.62,497.79 783.8,499.5 782.94,502.3 782.06,505.13 782.7,508.3 782.97,510.84 784.62,513.99 783.8,517.1 783.81,520 785.34,522.76 786,525.9 786.22,528.73 786.28,532.08 787.1,534.7 787.8,536.87 789.6,540.52 790,543ZM806.9,528.1 809.12,527.75 811.3,525.9 814.22,525.43 815.7,527 816.24,529.72 819,531.4 819.81,533.98 820.1,536.9 818.04,538.01 816.8,540.2 814.16,539.52 811.3,539.1 808.58,537.48 808,534.7 808.05,532.66 806.78,530.4ZM824.5,523.7 827.79,522.49 830,521.5 832.46,520.55 834.4,517.1 836.4,515.74 837.65,513.47 839.9,512.7 841.48,514.28 843.3,514.9 844.05,517.47 844.71,519.19 845.5,521.5 843.5,524.23 842.1,527 841.26,529.67 839.9,532.5 840.01,535.82 841,538 838.79,537.95 836.6,539.1 833.78,538.95 831.1,538 828.61,536.03 826.7,534.7 827.13,531.73 825.2,529.2 824.31,526.83ZM823.4,543.5 826.76,542 828.9,541.3 831.4,541.29 834.4,541.7 836.46,542.13 838.8,543.5 838.5,546.79 836.6,547.9 834.65,549.13 831.7,547.62 830,549 826.9,549.05 824.5,546.8ZM875.2,532.5 878.5,531.4 882.4,535.8 880.7,538.6 875.8,536.9Z"/>
<path class="c" fill="#e98d2f" d="M997.8,447.7 997.13,445.7 996.42,443.25 996.2,441.1 994.32,439.17 992.9,438.9 990.01,438.86 987.4,437.8 985.85,435.24 984.1,433.4 983.02,430.63 981.9,427.9 981.31,425.91 981.26,423.38 980.8,421.3 981.67,418.14 984.1,416.9 986.4,415.54 988.84,414.62 990.7,412.5 993.37,410.55 996.05,409.82 998.4,408.1 1000.52,406.69 1003.57,406.59 1006.1,405.9 1008.8,406.84 1011.57,405.72 1014.5,405.28 1017.1,404.8 1019.55,404.75 1022.98,404.02 1025.9,404.4 1028.61,404.15 1030.67,401.79 1033.6,402.2 1036.9,403.7 1035.75,405.97 1035.39,408.61 1034.7,411.4 1032.89,413.05 1033.51,415.7 1032.5,418 1034.3,419.39 1034.85,421.99 1036.13,424.27 1035.8,426.8 1036.17,430.14 1037.59,432.88 1038,435.6 1039.83,437.29 1039.25,439.83 1040.2,442.2 1038.36,444.29 1038.65,447.11 1038,449.9 1035.72,449.88 1033.3,449.1 1030.23,450.42 1028.1,450.6 1026.14,450.62 1024.11,448.67 1021.5,448.8 1018.53,448.58 1016.37,447.16 1014.9,445.5 1012.29,445.47 1009.89,445.44 1008.3,444 1006.02,445.59 1003.9,446.6 1000.86,446.32 997.8,447.7ZM964.9,430.5 969.8,425.2 974.6,428.4 969.8,434.3ZM963.3,442.9 965.37,441.13 967.1,438.6 969.43,438.31 971.4,436.5 974.83,435.76 976.8,434.8 979.5,433.8 980.5,436.5 978.4,439.7 976.98,440.7 975.7,442.9 974.38,445.29 971.4,446.7 970,448.94 968.2,449.4 968.84,451.74 967.1,453.7 966,452.6 965.65,450.33 964.9,448.3 963.95,445.66Z"/>
<path class="c" fill="#e98d2f" d="M997.8,447.7 999.4,450.03 997.74,453.5 999.1,455.5 998.92,458.87 1000.36,461.85 1000.6,464.3 998.56,465.69 998.35,468.36 997.3,470.9 995.24,473.02 992.9,474.2 990.96,472.02 988.5,470.9 986.6,467.65 984.1,466.5 982.87,463.98 981.05,462.53 978.6,462.1 976.53,459.78 974.2,458.8 971.2,460 967.8,461.7 966.37,464.24 964,465.1 962.76,466.92 961.9,470.2 960.27,472.49 961,475.2 960.5,478 959.7,480.3 960.06,482.92 958.5,485.4 958.83,487.53 959.98,490.14 958.9,492.2 960.17,494.18 960.2,497.2 961.98,499.72 961.9,502.3 963.78,500.22 965.2,497.2 968.09,496.5 969.5,493.9 972.14,494.05 974.5,491.7 977.86,492.25 980.5,490.5 983.37,490.09 986.4,490.1 987.2,491.7 989.83,490.95 992.3,490.1 994.69,489.21 997.4,489.2 999.81,489.73 1002.5,488.8 1005.62,489.3 1007.6,487.9 1009.3,485.4 1011.4,484.1 1013.1,486.2 1015.2,488.8 1017.34,488.16 1020.3,489.2 1022.16,489.72 1024.5,490.1 1027.16,491.78 1028.7,492.6 1030.91,494.04 1033,494.7 1034.58,496.07 1037.2,496.4 1039.7,497.2 1040.66,496.08 1043.1,495.1 1045.33,493.93 1047.4,492.2 1049.23,491.18 1051.6,491.3 1052.9,487.9 1053.42,485.43 1055,484.5 1056.18,481.58 1057.5,479.5 1056.94,477.19 1055.8,474.4 1053.98,472.37 1053.3,470.2 1051.7,469.27 1050.7,466.8 1049,464.2 1047.4,462.5 1046.5,460 1047.37,457.58 1046.8,455.5 1044.81,454.21 1041.67,453 1040.38,451.27 1038,449.9 1035.72,449.88 1033.3,449.1 1030.23,450.42 1028.1,450.6 1026.14,450.62 1024.11,448.67 1021.5,448.8 1018.53,448.58 1016.37,447.16 1014.9,445.5 1012.29,445.47 1009.89,445.44 1008.3,444 1006.02,445.59 1003.9,446.6 1000.86,446.32 997.8,447.7Z"/>
<path class="c" fill="#e98d2f" d="M1039.7,497.2 1037.2,496.4 1034.58,496.07 1033,494.7 1030.91,494.04 1028.7,492.6 1027.16,491.78 1024.5,490.1 1022.16,489.72 1020.3,489.2 1017.34,488.16 1015.2,488.8 1013.1,486.2 1011.4,484.1 1009.3,485.4 1007.6,487.9 1005.62,489.3 1002.5,488.8 999.81,489.73 997.4,489.2 994.69,489.21 992.3,490.1 989.83,490.95 987.2,491.7 986.4,490.1 983.37,490.09 980.5,490.5 977.86,492.25 974.5,491.7 972.14,494.05 969.5,493.9 968.09,496.5 965.2,497.2 963.78,500.22 961.9,502.3 962.23,504.64 963.11,507.24 964.4,509.1 964.55,512.11 965.78,515.23 966.1,517.6 966.91,519.42 968.2,521.8 969.73,522.17 972,523.1 974.65,523.95 977.1,525.2 979.02,525.51 982.2,524.3 984.36,524.71 987.2,524.8 989.8,527.7 990.46,530.22 991.5,532 992.04,534.27 991.5,536.2 992.3,539.2 994.72,539.69 997.4,540.4 999.21,541.82 1001.6,542.5 1003.88,543.29 1004.2,545.5 1005.9,548.5 1008.4,548.5 1010.62,547.02 1012.6,546.8 1014.52,546.92 1016.9,546.3 1018.52,545.55 1020.3,543.8 1022.14,543.61 1023.6,541.3 1026.2,538.7 1028.26,537.38 1030.4,536.6 1033.4,534.5 1032.5,532 1032.02,529.9 1033,527.7 1032.04,526.16 1032.5,523.5 1033.31,521.43 1033.8,519.3 1035.2,517.95 1036.3,515.9 1038,512.5 1039.53,510.25 1041.4,510.4 1043.1,507.4 1042.3,504.9 1039.7,504 1039.3,500.6 1039.7,497.2ZM1032.5,534.5 1033.8,533.6 1035.1,534.9 1034.7,537 1033,537.2Z"/>
<path class="c" fill="#bfcde8" d="M874.1,566.6 875.53,564.86 879.18,564.06 880.7,562.2 883.18,561.33 884.51,558.64 887.71,559.23 889.5,556.7 891.03,554.05 893.4,553.57 895.89,551.74 898.3,550.1 900.56,548.13 903.22,548.44 904.31,545.08 907.1,544.6 909.75,543.68 911.86,542.73 913.39,542.7 915.89,540.48 918.1,540.2 920.71,539.1 924.04,538.54 926.9,538 928.33,539.83 929.16,542.7 930.2,544.6 932.56,546.23 933.5,547.9 936.31,548.58 939.28,548.1 941.27,549.72 944.5,549 947.11,546.84 948.9,544.6 952.04,543.88 953.91,544.64 956.19,543.01 959.62,543.96 962.1,543.9 965.08,542.95 967.72,543.58 969.98,543.39 972.77,543.67 975.3,542.4 977.71,542.89 980.33,542.23 982.76,542.68 985.37,541.21 988.5,540.8 990.8,539.49 992.3,539.2 994.72,539.69 997.4,540.4 999.21,541.82 1001.6,542.5 1003.88,543.29 1004.2,545.5 1005.9,548.5 1006.6,551.3 1007.8,553.8 1008.58,557.1 1009.9,559 1010.42,561.35 1011.69,563.95 1012.2,565.39 1013.2,567.8 1014.63,570.13 1014.64,573.68 1015.4,576.6 1013.23,578.29 1014.01,580.89 1012.1,583.3 1011.65,585.86 1010.17,587.59 1009.9,589.9 1010.37,591.88 1011.47,594.68 1013.63,596.71 1015.4,598.7 1015.68,601.94 1017.7,602.72 1018.7,605.3 1019.19,606.38 1019.59,608.83 1020.9,610.6 1022.71,613.14 1024.77,614.38 1026.4,617.2 1026.33,620.1 1027.35,623.63 1028.7,626 1026.85,628.08 1027.68,630.65 1026.4,632.6 1024.1,634.02 1023.52,637.24 1021.85,639.13 1020.9,641.4 1020.05,643.7 1018.41,646.01 1017.05,647.95 1016.5,650.2 1015.46,652.28 1015.1,654.06 1012.77,656.29 1014.08,659.47 1012.1,661.2 1012.24,663.36 1013.67,665.95 1015.15,667.36 1016.5,669.4 1014.46,668.57 1012.1,668.9 1009.39,669.72 1006.87,669.07 1004.4,667.8 1000.9,666.72 998.73,667 996.7,665.2 994.02,666 992.58,665.65 990.1,665.6 987.99,665.74 985.45,667.75 983.5,667.8 980.18,668.44 977.25,668.07 974.7,668.9 972.79,670.34 969.85,670.5 968.1,672.2 967.03,669.91 964.8,668.9 962.45,666.09 959.3,665.6 957.11,665.07 954.84,666.79 952.7,667.8 951.21,664.8 948.3,663.4 945.15,661.92 942.8,660.1 939.88,658.22 937.3,656.8 934.85,654.76 931.8,654.6 930.59,653.45 928.58,651.09 926.3,650.2 923.53,649.64 921.27,649.09 918.6,649.1 916.42,650.24 915.08,652.69 913.1,654.6 911.65,652.13 911.1,649.86 909.8,648 907.28,646.83 905.56,644.67 904.3,642.5 901.93,641.91 900.6,640.73 897.7,640.3 895.33,638.93 892.76,637.64 890,637 887.45,638.38 885.6,639.2 885.37,636.59 886.4,633.22 885.6,630.4 883.62,629.13 883.19,626.37 882.92,623.77 881.2,621.6 880,618.75 879.87,615.88 879,612.8 879.03,610.02 878.43,606.56 877.9,604 877.09,602.29 876.77,599.65 875.62,597.55 874.6,595.2 873.98,592.96 873.9,589.9 874.22,587.15 873.51,584.59 872.44,581.67 873,578.7 873.39,576.57 874.21,573.97 875.2,572.1 875.8,569 874.1,566.6Z"/>
<path class="c" fill="#e98d2f" d="M765.6,580.9 766.03,578.73 766.2,576.5 768.5,575.32 770.6,573.2 773.31,573.23 776.1,574.3 777.51,576.66 779.09,577.33 781.6,578.7 784.04,576.66 786,574.3 786.14,571.33 788.2,569.9 790.57,570.87 792.67,570.61 794.8,571 797.37,572.7 799.94,574.42 802.5,575.4 799.87,573.47 798.1,571 795.66,568.6 793.7,566.6 792.7,563.94 792.19,561.15 790.4,558.9 790.61,555.88 790.13,552.93 791.5,550.1 790.2,547.91 789.56,545.49 790,543 792.56,543.25 795.34,542.96 798.1,543.5 801.43,544.62 803.61,545.4 806.9,544.6 807.6,547.09 809.1,550.1 811.56,551.87 812.4,555.6 814.78,556.38 816.83,558.34 819,557.8 821.01,556.27 823.4,555.6 824.09,558.27 824.5,561.1 824.03,563.48 822.3,565.5 824.39,565.52 826.85,566.64 828.9,566.6 831.47,565.09 834.4,563.3 837.04,560.54 839.9,560 841.5,559.07 843.45,557.23 845.5,555.6 847.28,553.74 849.93,554.91 852.1,553.4 853.47,551.54 855.2,549.38 857.6,549 859.44,550.35 860.9,552.3 861.26,554.89 860.29,557.1 859.8,558.9 861.85,559.09 864.2,561.1 864.68,563.82 866.4,566.6 868.98,568.37 871.9,568.8 874.1,566.6 875.8,569 875.2,572.1 874.21,573.97 873.39,576.57 873,578.7 872.44,581.67 873.51,584.59 874.22,587.15 874.1,589.9 873.98,592.96 874.6,595.2 875.62,597.55 876.77,599.65 877.09,602.29 877.9,604 878.43,606.56 879.03,610.02 879,612.8 879.87,615.88 880,618.75 881.2,621.6 882.92,623.77 883.19,626.37 883.62,629.13 885.6,630.4 886.4,633.22 885.37,636.59 885.6,639.2 883.04,637.56 880.1,637 877.86,637.05 876.8,639.2 874.11,640.08 872.48,641.34 869.76,642.18 868,644.7 865.46,646.64 862.71,647.54 860.3,649.1 857.91,650.77 856.32,651.03 853.7,652.4 850.86,652.68 847.9,653.58 846,655.7 844.52,657.48 842.7,659 845.03,660.67 844.92,663.79 847.1,665.6 847.54,667.88 848.59,670.09 849.3,672.2 850.11,675.35 852.51,676.69 853.7,678.8 856.63,680.54 858.12,682.82 859.2,685.5 860.39,688.15 862.8,689.23 863.84,691.31 865.8,692.1 867.08,694.48 869.22,696.16 870.8,697.6 868.83,699.37 866.9,699.8 863.94,700.7 862.26,703.35 860.3,705.3 859.61,707.55 857.44,709.86 854.8,710.8 855.38,713.86 858.1,716.3 859.26,718.8 859.25,721.37 859.2,724 856.99,721.37 853.7,720.7 850.93,720.61 849.62,722.84 847.1,722.9 844.81,723.73 842.24,724.17 839.4,724 836.63,724.99 834.38,725.97 831.7,727.3 829.31,726.43 826.3,728.04 824,728.4 821.51,728.84 819.58,726.31 817.4,726.2 815.45,728.06 813.04,728.46 811.9,730.6 810.39,728.37 807.5,727.3 804.53,727.96 802.6,728.4 800.09,726.91 799.56,724.72 796.64,724.12 794.3,722.4 791.53,722.97 788.8,722.9 786.63,721.71 783.3,720.2 781.15,721.05 779.04,722.12 776.5,723.33 774.4,724 772.06,723.73 770.12,724.5 767.8,722.9 768.94,720.14 768.25,716.97 768.9,714.1 769.38,712 771.01,710.04 772.03,707.76 772.2,705.3 772.14,702.73 775.02,701.09 775.1,698.8 776.6,696.5 776.98,694.17 778.12,692.15 777.7,689.9 774.93,688.83 772,688.57 770,686.6 767.54,685.76 764.72,686.34 762.3,684.4 759.59,684.52 757.51,681.38 754.6,681 752.65,679.53 750.9,677.72 750.2,675.5 751.46,672.77 752,671.1 751.25,668.85 749.91,666.35 750.2,664.5 748.72,661.93 746.9,659 748.98,656.97 750.2,654.6 748.74,651.44 748,649.1 746.46,646.56 745.4,643.6 746.9,640.4 746.55,638.49 746.5,636.2 747.4,634.84 748.6,632.8 747.67,631.48 749,628.6 748.13,626.4 747.7,624.3 747.55,622.54 746.9,620.1 749.4,617.6 751.83,617.84 753.6,616.7 755.55,615.12 757.9,615.9 759.6,613.3 762.5,610.8 764.2,607.4 763.8,604 761.3,602.7 759.2,601.5 760,599.4 763.4,598.5 765.5,595.6 765.14,593.19 766.3,591.3 768.09,589.56 767.6,587.1 768.95,585.18 768,582.9 766.3,581.2 765.6,580.2Z"/>
<path class="c" fill="#4050a1" d="M765.6,580.2 763.81,579.42 761.3,578.2 759.35,578.75 756.2,578.2 753.52,579.09 751.1,579 747.86,579.15 746,580.3 742.91,580.8 741.8,582.9 739.86,584.08 738.4,586.2 736.65,587.74 734.2,588.8 730.8,589.2 728.7,592.2 727.42,594.06 727.4,596.4 727.82,598.98 726.1,601.5 723.72,603.4 723.2,606.6 721.74,608.47 719.8,610.4 718.38,612.01 716.4,613.3 714.6,614.32 713.9,616.3 711.7,618.4 711.41,620.16 709.2,621.8 707.5,623.5 708.4,625.6 706.7,626.6 709.6,627.7 712.2,629 715.6,627.7 718.9,626.9 722.3,625.2 725.7,625.6 729.1,625.2 732.1,626.9 734.2,629.4 736.7,630.7 739.3,632 742.2,633.6 744.3,635.8 743.5,637.9 741.4,640.4 741.8,643 745.4,643.8 746.9,640.4 746.55,638.49 746.5,636.2 747.4,634.84 748.6,632.8 747.67,631.48 749,628.6 748.13,626.4 747.7,624.3 747.55,622.54 746.9,620.1 749.4,617.6 751.83,617.84 753.6,616.7 755.55,615.12 757.9,615.9 759.6,613.3 762.5,610.8 764.2,607.4 763.8,604 761.3,602.7 759.2,601.5 760,599.4 763.4,598.5 765.5,595.6 765.14,593.19 766.3,591.3 768.09,589.56 767.6,587.1 768.95,585.18 768,582.9 766.3,581.2 765.6,580.2ZM729.5,586.7 730.8,584.1 732.1,583.3 731.8,585 730.6,587.1Z"/>
<path class="c" fill="#e2623e" d="M693,632.6 695.13,631.42 697.53,630.39 699.97,629.67 701.91,628.58 705.08,627.98 706.7,626.6 709.6,627.7 712.2,629 715.6,627.7 718.9,626.9 722.3,625.2 725.7,625.6 729.1,625.2 732.1,626.9 734.2,629.4 736.7,630.7 739.3,632 742.2,633.6 744.3,635.8 743.5,637.9 741.4,640.4 741.8,643 745.4,643.8 746.46,646.56 748,649.1 748.74,651.44 750.2,654.6 748.98,656.97 746.9,659 746.46,660.8 744.7,662.3 743.85,666.05 741.4,667.8 742.19,669.97 742.12,672.46 741.9,674.4 740.53,673.07 738.1,673.3 736.64,671.49 734.8,668.9 732.02,667.26 730.4,665.6 727.63,664.52 726,662.3 723.28,662.16 720.5,662.3 718.84,660.42 718.3,657.9 715.86,656.93 713.9,655.7 712.19,653.82 710.96,652.9 709.5,650.2 706.72,648.81 704,648 702.85,644.88 700.7,642.5 697.95,641.12 697.71,638.96 695.2,638.1 693.93,635.9 693,632.6Z"/>
<path class="c" fill="#e98d2f" d="M741.9,674.4 742.12,672.46 742.19,669.97 741.4,667.8 743.85,666.05 744.7,662.3 746.46,660.8 746.9,659 748.72,661.93 750.2,664.5 749.91,666.35 751.25,668.85 752,671.1 751.46,672.77 750.2,675.5 747.45,675.91 745.8,676.2 743.56,675 741.9,674.4Z"/>
<path class="c" fill="#bfcde8" d="M692.9,632.5 689.64,632.94 686.95,632.35 684.1,633.6 681.88,634.62 679.92,636.22 677.5,636.5 678.04,639.7 677.26,641.47 676.4,644.2 677.15,647 675.95,648.65 675.3,650.8 673.83,653.22 670.48,653.88 668.7,655.2 666.74,656.75 664.69,658.25 662.1,658.5 659.41,658.55 657.63,659.42 655.5,660.7 652.59,661.83 650,664 651.1,667.3 654.07,667.79 656.6,668 654.1,669.51 651.37,668.38 649.65,670.89 646.7,671.1 644.97,670.02 642.05,669.32 640.22,668.1 637.9,667.3 635.3,667.82 631.61,666.53 629.1,666.2 628.93,663.26 627.66,661.92 626.9,659.6 624.3,659.59 622.5,657.9 620.36,657.85 618.1,657.4 618.99,658.93 619.34,661.91 619.2,664 620.67,666.61 621.29,669.67 621.4,672.8 621,675.45 620.2,678.44 621.4,681.38 621.4,683.8 618.26,684.41 616.86,683.21 614.8,682.7 611.72,682.96 609.3,681.6 606.7,681.42 604.11,681.71 601.6,682.7 600.7,680.05 599.85,677.87 599.04,675.75 597.2,673.9 594.87,674.07 591.82,674.09 588.4,673.9 585.87,674.06 583.14,674.78 580.7,675.5 577.51,675.55 574.65,675.76 571.9,676.1 569.93,678.6 567,679.4 569.51,680.04 570.76,681.17 571.9,683.8 570.63,686.46 569.7,689.3 570.44,692.41 570.8,694.8 572.68,694.53 574.56,695.41 577.4,695.9 578.85,697.97 582.47,697.83 584,699.2 585.41,702.28 587.3,704.7 589.29,705.78 591.56,707.38 593.9,706.9 596.17,709.15 599.4,710.2 599.91,713 601.89,715.24 602.7,716.8 603.77,718.95 606,722.3 604.65,724.72 604.9,727.8 607.14,730.16 607.1,733.3 609.22,734.03 611.03,736.29 611.5,738.8 614.13,740.05 617,742.1 619.2,744.4 618.05,747.22 615.9,749.9 614.05,752.35 614.8,754.3 615.55,757.29 618.1,758.7 619.44,761.34 620.82,763.82 621.4,766.4 619.64,765.08 618.1,763.1 617.1,761.73 614.8,760.9 615.55,764.56 614.53,767.06 613.7,769.7 614.08,772.65 612.81,775.24 613.15,777.98 612.6,780.7 610.99,783.34 610.77,785.85 610.98,789.87 609.3,791.7 608.84,794.42 608.28,797.31 606.52,799.6 606,802.7 605.88,805.77 603.33,807.34 602.7,809.7 600.98,811.79 598.3,813.2 600.18,815.04 600.5,817.22 602.7,819.2 604.98,820.34 607.63,821.62 609.3,823.6 611.82,825.47 614.33,826.57 617,828 619.87,827.93 622.78,829.29 624.7,831.3 626.97,832.22 628.95,832.91 631.3,833.5 633.47,833.1 636.19,832.31 637.9,832.4 641.16,832.35 642.35,833.84 644.5,834.6 646.54,835.54 649.2,836.36 651.1,837.9 653.15,839.53 655.16,838.49 657.7,840.1 659.44,841.82 661,844.5 663.83,846 666.29,845.74 668.7,846.7 671.45,846.96 674.39,845.5 677.5,845.6 679.72,847.56 683,847.8 684.1,850 684.17,847.12 683.71,844.27 681.9,842.3 682.75,839.25 683.17,836.28 683,833.5 683.76,829.91 686.3,828 688.52,826.46 691.25,826.14 692.9,823.6 695.6,823.75 698.34,821.9 700.6,820.3 703.08,821.11 705.81,822.31 708.3,822.5 710.29,824.26 712.93,823.65 714.9,825.8 717.6,825.91 720.95,826.57 723.7,828 725.91,830.57 728.92,830.04 730.3,832.4 731.79,833.51 734.66,832.94 736.9,833.9 739.56,833.63 741.57,832.84 743.5,832.4 745.44,832.16 747.43,829.78 750.1,829.1 752.28,827.17 753.72,825.92 756.7,824.7 758.07,821.7 760.69,820.49 762.2,819.2 763.6,816.3 765.82,814.49 767.8,813.1 765.62,811.42 765.6,808.7 763.04,807.71 760.81,805.9 759,804.3 756.53,801.29 755.7,798.8 754.8,796.19 754.12,793.95 753.5,791.1 752.64,788.49 751.4,787.21 750.2,784.5 751.27,781.88 753.39,781.34 755.64,779.98 756.8,777.9 755.97,775.79 754.79,773.78 754.6,771.3 754.7,769.12 757.3,765.8 757.12,763.47 756.33,760.93 756.8,759.2 755.69,755.87 753.5,753.7 751.4,753.09 750.2,751.5 747.4,752.46 744.7,753.7 742.43,754.69 740.3,754.8 741.15,752.79 742.5,750.4 744.93,748.92 745.91,746.45 746.9,743.8 748.06,741.32 748.76,739.56 751.3,738.3 752.89,735.95 755.12,735.78 756.8,733.9 757.38,731.63 758.2,729.49 757.9,727.3 759.84,726.35 762.3,725.1 765.32,724.79 767.8,722.9 768.94,720.14 768.25,716.97 768.9,714.1 769.38,712 771.01,710.04 772.03,707.76 772.2,705.3 772.14,702.73 775.02,701.09 775.1,698.8 776.6,696.5 776.98,694.17 778.12,692.15 777.7,689.9 774.93,688.83 772,688.57 770,686.6 767.54,685.76 764.72,686.34 762.3,684.4 759.59,684.52 757.51,681.38 754.6,681 752.65,679.53 750.9,677.72 750.2,675.5 747.45,675.91 745.8,676.2 743.56,675 741.9,674.4 740.53,673.07 738.1,673.3 736.64,671.49 734.8,668.9 732.02,667.26 730.4,665.6 727.63,664.52 726,662.3 723.28,662.16 720.5,662.3 718.84,660.42 718.3,657.9 715.86,656.93 713.9,655.7 712.19,653.82 710.96,652.9 709.5,650.2 706.72,648.81 704,648 702.85,644.88 700.7,642.5 697.95,641.12 697.71,638.96 695.2,638.1 693.93,635.9 693,632.6ZM783.1,853.3 785.55,851.23 787.5,848.9 790.47,848.38 792.35,847.94 794.2,846.7 795.72,844.38 794.77,841.85 796.4,840.1 798.6,837.9 798.2,840.56 800.56,843.89 799.7,846.7 800.17,849.74 800.1,852.58 800.8,855.5 801.46,858.58 799.05,861.08 799.7,864.3 799.61,866.73 798.01,868.93 796.32,870.34 796.4,873.1 794.91,875.21 793.1,877.5 792.06,875.49 788.89,874.42 787.5,873.1 785.71,871.45 786.3,868.77 784.86,866.71 784.2,864.3 783.84,861.29 782.82,858.5 783.14,855.73Z"/>
<path class="c" fill="#bfcde8" d="M767.8,722.9 765.32,724.79 762.3,725.1 759.84,726.35 757.9,727.3 758.2,729.49 757.38,731.63 756.8,733.9 755.12,735.78 752.89,735.95 751.3,738.3 748.76,739.56 748.06,741.32 746.9,743.8 745.91,746.45 744.93,748.92 742.5,750.4 741.15,752.79 740.3,754.8 742.43,754.69 744.7,753.7 747.4,752.46 750.2,751.5 751.4,753.09 753.5,753.7 755.69,755.87 756.8,759.2 756.33,760.93 757.12,763.47 757.3,765.8 759.95,764.94 762.52,764.37 764.58,763.32 767.63,763.44 770,763.6 771.47,761.7 772.49,759.9 775.24,758.94 776.6,757 777.96,754.72 781,753.7 781.78,755.89 783.89,757.26 784.84,759.84 786.6,761.4 788.08,762.85 791.04,763.99 792.1,765.8 794.09,763.66 793.02,761.05 794.7,758.1 795.8,755.8 797.63,754.6 798.7,751.9 800.7,753.4 803.1,754.8 806.27,754.62 807.9,755.9 809.12,753.73 811.4,751.5 811.46,748.92 810.3,746.6 812.56,744.67 814.7,742.7 811.9,741.6 809.85,740.47 807.22,738.77 805.3,738.3 803.56,736.26 800.9,733.9 802.78,731.87 802.6,728.4 800.09,726.91 799.56,724.72 796.64,724.12 794.3,722.4 791.53,722.97 788.8,722.9 786.63,721.71 783.3,720.2 781.15,721.05 779.04,722.12 776.5,723.33 774.4,724 772.06,723.73 770.12,724.5 767.8,722.9Z"/>
<path class="c" fill="#bfcde8" d="M802.6,728.4 804.53,727.96 807.5,727.3 810.39,728.37 811.9,730.6 813.04,728.46 815.45,728.06 817.4,726.2 819.58,726.31 821.51,728.84 824,728.4 826.3,728.04 829.31,726.43 831.7,727.3 834.38,725.97 836.63,724.99 839.4,724 842.24,724.17 844.81,723.73 847.1,722.9 849.62,722.84 850.93,720.61 853.7,720.7 856.99,721.37 859.2,724 859.25,721.37 859.26,718.8 858.1,716.3 855.38,713.86 854.8,710.8 857.44,709.86 859.61,707.55 860.3,705.3 862.26,703.35 863.94,700.7 866.9,699.8 868.83,699.37 870.8,697.6 872.64,696.85 874.22,694.35 876.8,694.3 879.38,695.42 882.3,696.5 884.07,694.2 886.96,693.66 888.9,691 891.06,689.58 893.3,687.7 896.35,687.41 897.33,688.66 899.9,688.8 902.02,689.89 904.3,691.39 906.5,691 908.45,692.17 911.17,691.55 913.1,692.1 915.58,692.59 918.06,692.25 920.4,692.48 923,692.1 921.81,693.8 922.78,696.4 922.3,698.7 923.02,701.34 925.2,704.2 926.36,705.94 927.4,707.5 928.14,710.35 926.64,712.11 926.3,714.1 924,716.57 920.8,717.4 919.61,720.33 918.6,722.9 917.71,724.88 919.5,727.38 919.7,729.5 918.67,731.35 918.56,734.42 917.5,736.1 918.08,738.72 916.4,740.5 914.06,740.9 911.11,741.73 908.7,742.7 906.83,743.49 904.37,743.71 902.1,743.8 899.99,745.47 897.76,746.93 894.4,747.1 891.8,748.25 889.73,750.05 886.7,750.4 884.24,750.17 881.11,750 877.9,749.3 874.62,749.52 873.25,749.03 870.2,750.4 867.39,750.84 864.87,748.49 862.5,748.2 859.96,748.62 857.76,746.68 855.9,746 854.42,744.42 852.33,742.87 849.3,742.7 847.42,741.12 847.29,738.26 844.9,737.2 841.83,738.15 839,737.41 836.1,738.3 833.84,739.42 831.62,738.61 829.5,739.4 827.53,741.7 824,742.7 821.37,742.23 819.01,740.34 817.4,740.5 814.7,742.7 811.9,741.6 809.85,740.47 807.22,738.77 805.3,738.3 803.56,736.26 800.9,733.9 802.78,731.87 802.6,728.4Z"/>
<path class="c" fill="#e98d2f" d="M870.8,697.6 869.22,696.16 867.08,694.48 865.8,692.1 863.84,691.31 862.8,689.23 860.39,688.15 859.2,685.5 858.12,682.82 856.63,680.54 853.7,678.8 852.51,676.69 850.11,675.35 849.3,672.2 848.59,670.09 847.54,667.88 847.1,665.6 844.92,663.79 845.03,660.67 842.7,659 844.52,657.48 846,655.7 847.9,653.58 850.86,652.68 853.7,652.4 856.32,651.03 857.91,650.77 860.3,649.1 862.71,647.54 865.46,646.64 868,644.7 869.76,642.18 872.48,641.34 874.11,640.08 876.8,639.2 877.86,637.05 880.1,637 883.04,637.56 885.6,639.2 887.45,638.38 890,637 892.76,637.64 895.33,638.93 897.7,640.3 900.6,640.73 901.93,641.91 904.3,642.5 905.56,644.67 907.28,646.83 909.8,648 911.1,649.86 911.65,652.13 913.1,654.6 915.08,652.69 916.42,650.24 918.6,649.1 921.27,649.09 923.53,649.64 926.3,650.2 928.58,651.09 930.59,653.45 931.8,654.6 934.85,654.76 937.3,656.8 939.88,658.22 942.8,660.1 945.15,661.92 948.3,663.4 951.21,664.8 952.7,667.8 950.57,668.33 948.3,668.9 946.52,672.34 943.9,673.3 941.64,674.56 940.84,676.32 939.5,678.8 939.12,681.66 936.2,684.4 933.48,684.75 931.58,687.21 928.5,687.7 926.83,689.22 925.08,691.25 923,692.1 920.4,692.48 918.06,692.25 915.58,692.59 913.1,692.1 911.17,691.55 908.45,692.17 906.5,691 904.3,691.39 902.02,689.89 899.9,688.8 897.33,688.66 896.35,687.41 893.3,687.7 891.06,689.58 888.9,691 886.96,693.66 884.07,694.2 882.3,696.5 879.38,695.42 876.8,694.3 874.22,694.35 872.64,696.85 870.8,697.6Z"/>
<path class="c" fill="#e98d2f" d="M923,692.1 925.08,691.25 926.83,689.22 928.5,687.7 931.58,687.21 933.48,684.75 936.2,684.4 939.12,681.66 939.5,678.8 940.84,676.32 941.64,674.56 943.9,673.3 946.52,672.34 948.3,668.9 950.57,668.33 952.7,667.8 954.84,666.79 957.11,665.07 959.3,665.6 962.45,666.09 964.8,668.9 967.03,669.91 968.1,672.2 969.85,670.5 972.79,670.34 974.7,668.9 977.25,668.07 980.18,668.44 983.5,667.8 985.45,667.75 987.99,665.74 990.1,665.6 992.58,665.65 994.02,666 996.7,665.2 998.73,667 1000.9,666.72 1004.4,667.8 1006.87,669.07 1009.39,669.72 1012.1,668.9 1014.46,668.57 1016.5,669.4 1015.06,672.11 1014.13,674 1011.24,676.05 1009.9,678.8 1010.13,681.43 1010.79,684.35 1009.9,687.7 1007.5,687.14 1004.63,688.41 1002.2,689.9 999.09,689.69 997.17,687.95 995.6,686.6 992.66,687.32 990.1,687.7 988.01,688.08 985.47,690.27 982.4,689.9 980.68,691.51 978.62,692.32 976.9,694.3 974.97,695.72 974.57,697.97 972.5,699.8 970.42,701.39 967.29,701.34 964.8,702 962.27,702.47 960.74,704.16 958.23,704.05 956,705.3 954.18,707.41 953.8,709.7 951.31,709.59 949.49,711.77 946.37,712.1 943.9,711.9 940.92,711.56 938.15,712.36 935.1,711.9 932.84,710.32 930.17,708.66 927.4,707.5 926.36,705.94 925.2,704.2 923.02,701.34 922.3,698.7 922.78,696.4 921.81,693.8 923,692.1Z"/>
<path class="c" fill="#e98d2f" d="M927.4,707.5 930.17,708.66 932.84,710.32 935.1,711.9 938.15,712.36 940.92,711.56 943.9,711.9 946.37,712.1 949.49,711.77 951.31,709.59 953.8,709.7 954.18,707.41 956,705.3 958.23,704.05 960.74,704.16 962.27,702.47 964.8,702 967.29,701.34 970.42,701.39 972.5,699.8 974.57,697.97 974.97,695.72 976.9,694.3 978.62,692.32 980.68,691.51 982.4,689.9 985.47,690.27 988.01,688.08 990.1,687.7 992.66,687.32 995.6,686.6 997.17,687.95 999.09,689.69 1002.2,689.9 1004.63,688.41 1007.5,687.14 1009.9,687.7 1013.11,689.27 1014.3,692.1 1016.23,694 1018.57,695.23 1020.9,696.5 1019.48,698.14 1018.73,700.37 1015.55,701.51 1014.3,703.1 1013.14,705.69 1011.61,707.69 1009.9,709.7 1008.45,712.33 1007.99,715.98 1007.7,718.5 1006.65,720.16 1006.68,723.12 1005.95,724.98 1004.4,727.3 1004.52,729.57 1002.88,731.51 1000.88,733.61 1001.1,736.1 999.17,738.37 996.85,740.31 996.7,742.7 994.51,743.25 992.55,745.75 990.7,747.74 987.9,748.2 985.61,748.66 984.29,749.58 981.3,749.3 978.23,749.17 975.76,749.91 972.5,751.5 970.91,752.34 968.5,754.46 965.87,755.75 963.7,755.9 961.5,757.67 959.3,758.1 957.55,759.84 954.59,758.59 952.78,759.7 950.5,761.4 947.56,760.76 945.13,761.71 942.68,759.79 939.5,760.3 937.43,760.52 935.02,758.99 932.51,757.73 930.7,757 927.76,756.17 926.43,754.56 925.68,752.33 923,751.5 920.8,751.05 917.94,748.56 915.3,747.1 913.91,745.39 913.1,742.7 913.77,740.88 916.4,740.5 918.08,738.72 917.5,736.1 918.56,734.42 918.67,731.35 919.7,729.5 919.5,727.38 917.71,724.88 918.6,722.9 919.61,720.33 920.8,717.4 924,716.57 926.3,714.1 926.64,712.11 928.14,710.35 927.4,707.5Z"/>
<path class="c" fill="#bfcde8" d="M870.2,750.4 873.25,749.03 874.62,749.52 877.9,749.3 881.11,750 884.24,750.17 886.7,750.4 889.73,750.05 891.8,748.25 894.4,747.1 897.76,746.93 899.99,745.47 902.1,743.8 904.37,743.71 906.83,743.49 908.7,742.7 911.11,741.73 914.06,740.9 916.4,740.5 913.77,740.88 913.1,742.7 913.91,745.39 915.3,747.1 914.43,749.19 913.1,751.5 910.83,753.45 909.63,755.33 908.7,758.1 907.77,760.78 908,763.32 906.5,764.7 904.27,766.18 901,768 898.75,770.48 897.7,773.5 896.01,772.62 893.92,772.77 891.1,772.4 888.36,771.89 885.6,771.3 882.42,771.28 880.1,773.5 877.09,774.48 873.9,775.2 872.4,773.9 871.95,770.76 870.2,768 869.63,765.52 871.78,763.29 871.3,761.4 870.65,758.3 868,755.9 868.7,753.25 870.2,750.4Z"/>
<path class="c" fill="#e98d2f" d="M873.9,775.2 877.09,774.48 880.1,773.5 882.42,771.28 885.6,771.3 888.36,771.89 891.1,772.4 893.92,772.77 896.01,772.62 897.7,773.5 898.75,770.48 901,768 904.27,766.18 906.5,764.7 908,763.32 907.77,760.78 908.7,758.1 909.63,755.33 910.83,753.45 913.1,751.5 914.43,749.19 915.3,747.1 917.94,748.56 920.8,751.05 923,751.5 925.68,752.33 926.43,754.56 927.76,756.17 930.7,757 932.51,757.73 935.02,758.99 937.43,760.52 939.5,760.3 942.68,759.79 945.13,761.71 947.56,760.76 950.5,761.4 952.78,759.7 954.59,758.59 957.55,759.84 959.3,758.1 961.5,757.67 963.7,755.9 963.09,758.56 964.69,760.71 964.83,763.38 965.5,765.9 966.47,768.09 969.1,770.7 971.13,771.45 973.2,772.5 971.5,775.4 971.45,778.25 971.5,780.4 969.11,779.96 966.7,781.3 963.2,779.6 959.9,779.86 957.2,777.8 955.09,778.54 952.51,778.69 950.1,779.6 947.3,779.06 944.96,778.01 943,778.4 940.82,778.18 937.7,778.44 935.9,779 934.02,777.93 930.86,778.72 928.8,777.8 926.02,778.09 923.72,779.23 921.7,779 919.4,780.33 917.11,781.54 915.7,781.9 913.06,781.51 910.4,780.8 910.75,782.87 909.8,784.9 910.15,787.51 912.2,789.6 913.64,791.6 915.7,793.2 916.1,796.88 918.1,799.1 920.05,802.65 921.7,803.9 923.12,805.94 925.57,806.53 926.4,808.6 927.9,810.85 929.11,812.07 931.1,813.4 932.69,814.89 934.42,816.49 935.9,818.1 938.19,819.1 938.38,822.24 940.6,822.8 942.45,824.22 944.29,825.9 945.4,827.6 946.83,829.36 948.57,831.15 950.1,832.3 952.5,833.53 954.9,835.9 957.7,836.46 959.6,838.5 962.18,839.3 964.3,840.9 966.7,843.2 963.58,841.53 960.8,840.6 958.46,839.05 956,838.3 954.43,837.15 951.7,836.1 950.1,834.7 947.78,832.02 945.4,831.1 942.68,830.73 940.6,830 938.31,828.55 936.1,827.43 933.5,826.4 931.6,825.49 928.35,825.13 926.4,822.8 924.65,822.55 921.58,821.6 919.3,820.5 917.11,818.64 915.7,815.7 913.57,813.51 912.2,811 910.66,809.35 908.24,806.81 907.4,805.1 904.7,804.35 903.64,801.4 901.5,800.3 898.9,798.08 897.9,795.6 895.4,794.2 894.4,790.8 894.33,788.54 891.25,787.51 890.8,784.9 889.7,782.59 887.18,781.8 885.5,779.9 882.5,780.4 880.8,783.7 880.13,785.76 879,787.9 876.6,790.2 876.23,787.26 874.2,784.9 872.54,782.43 871.9,779 871.3,775.7 873.9,775.3ZM884.3,783.1 886.1,782.5 887.54,785.57 885.99,787.67 887.9,790.8 887.11,793.18 886.7,795.6 885.79,793.13 885.1,789.6 885.44,786.79 884.61,785.31ZM888.5,781.3 891.1,783.1 891.8,787.3 889.6,786.7ZM892.6,795.6 894.4,795 897.05,796.57 897.94,798.76 900.3,800.9 902.32,802.38 904.7,803.93 905.7,806.8 904.5,807.4 903.27,805.27 900.41,803.68 898.5,802.1 897.03,799.52 894.2,798.83ZM921.7,822.3 928.8,821.7 932.3,824 926.4,825.2 921.7,824.6ZM930,832.9 932.96,832.35 935.9,831.1 938.02,832.26 940.41,831.12 943,831.7 944.2,833.5 941.45,833.93 939.53,833.98 937.1,833.8 933.96,834.73 931.1,834.7ZM938.3,835.9 945.4,834.9 947.2,836.1 941.8,837.3Z"/>
<path class="c" fill="#bfcde8" d="M964.3,840.9 962.18,839.3 959.6,838.5 957.7,836.46 954.9,835.9 952.5,833.53 950.1,832.3 948.57,831.15 946.83,829.36 945.4,827.6 944.29,825.9 942.45,824.22 940.6,822.8 938.38,822.24 938.19,819.1 935.9,818.1 934.42,816.49 932.69,814.89 931.1,813.4 929.11,812.07 927.9,810.85 926.4,808.6 925.57,806.53 923.12,805.94 921.7,803.9 920.05,802.65 918.1,799.1 916.1,796.88 915.7,793.2 913.64,791.6 912.2,789.6 910.15,787.51 909.8,784.9 910.75,782.87 910.4,780.8 913.06,781.51 915.7,781.9 917.11,781.54 919.4,780.33 921.7,779 923.72,779.23 926.02,778.09 928.8,777.8 930.86,778.72 934.02,777.93 935.9,779 937.7,778.44 940.82,778.18 943,778.4 944.96,778.01 947.3,779.06 950.1,779.6 952.51,778.69 955.09,778.54 957.2,777.8 959.9,779.86 963.2,779.6 966.7,781.3 969.11,779.96 971.5,780.4 972.57,782.23 971.33,785.12 970.44,787.67 970.9,789.6 971.42,792.41 972.1,794.4 973.61,795.16 975.6,797.9 976.58,800.06 979.2,801.5 976.48,802.45 973.8,803.3 975.83,805.03 976.8,807.4 977.68,809.09 978.6,811 976.8,814 974.21,814.44 972.6,815.1 970.9,816.71 969.7,818.7 967.37,820.17 965.5,821.7 965.5,825.2 964.15,827.72 963.2,830 963.6,832.67 964.3,834.7 963.91,837.41 964.3,840.9Z"/>
<path class="c" fill="#e98d2f" d="M763.3,816.3 765.9,815.51 768.36,814.98 770.8,813 773.32,811.99 774.04,809.98 777.5,809.69 778.5,807.5 781.33,807.41 784.28,806.15 786.2,804.2 789.16,805.4 791.45,804.42 793.9,804.2 796.04,805.83 798.76,807.54 801.6,807.5 803.94,809.94 806.48,810.56 808.2,813 809.96,814.55 811.37,816.68 813.05,819.26 813.7,820.7 814.72,823.17 816.39,824.9 817.06,827.89 817,829.5 818.75,832.17 820.72,834.89 821.4,837.2 823.24,839.56 824.53,842.12 826.9,843.8 828.55,846.32 829.17,848.74 830.2,851.5 832.51,853.75 834.98,854.97 836.8,857 838.72,860.02 841.26,861.28 843.4,862.5 845.34,864.04 848.52,865.21 850,868 853.12,868.77 854.22,871.5 856.6,872.4 858.81,874.16 860.48,876.22 863.3,876.8 865.68,877.11 867.59,879.17 869.9,880.1 871.84,881.11 874.2,882.46 876.5,882.3 878.68,883.5 881.48,884.46 883.1,886.7 884.88,888.59 887.3,890.04 889.7,892.2 891.5,893.72 894.43,893.57 896.3,893.3 899.15,894.61 901.8,896.6 902.55,899.6 905.1,902.1 908.03,903.4 909.34,905.81 911.7,906.6 914.61,907.37 917.2,907.7 918.65,909.21 919.19,912 920.5,914.3 921.67,916.47 923.16,918.34 923.8,920.9 923.66,923.3 925.5,925.56 927.1,927.5 928.12,929.58 929.21,931.79 929.3,934.1 929.41,935.82 928.73,938.13 928.2,940.7 925.54,942.47 924.61,944.63 922.7,945.1 922.45,947.69 922.35,949.95 920.5,951.7 919.66,954.58 920.5,957.2 922.65,956.37 924.97,957.82 927.1,958.3 928.45,955.79 930.01,953.1 931.5,950.6 933.67,948.77 935.15,947.34 937,945.1 936.39,943.32 936.53,940.96 934.8,938.5 937.15,936.2 939.2,934.1 941.38,932.48 943.36,931.23 945.8,930.8 945.43,928.22 947.8,926.09 946.9,924.2 944.85,921.58 943.6,918.7 941.39,916.43 938.31,917.4 937,915.4 935.25,912.96 933.7,909.9 932.86,907.65 933.85,904.69 934.8,903.3 936,900.85 937,898.72 938.1,896.6 940.7,895.57 943.6,894 946.46,894.05 948.73,895.12 951.3,896.6 954.06,897.37 956.97,897.79 959,899.9 960.35,902.15 963.4,903.3 964.05,904.93 965.6,907.2 968.9,905.5 969.97,903.27 970.7,899.9 968.33,897.98 967.8,894.4 966.46,892.59 964.23,891.64 962.3,890 959.52,889.28 957.48,887.13 954.6,885.6 952.25,884.09 950.01,882.76 946.9,882.3 943.73,881.87 941.78,879.61 939.2,877.9 937.05,876.2 933.95,875.4 931.5,873.5 928.91,871.98 926.26,871.45 923.8,870.2 921.46,868.86 919.4,868 921.3,865.89 922.7,862.5 920.09,861.28 918.3,860.3 915.48,861.28 913.04,862.85 909.5,862.5 907.68,861.17 905.63,859.61 902.9,859.2 900.53,858.1 898.09,856.75 896.3,854.8 894.17,853.11 892.71,852.22 890.85,850.91 889.7,848.2 887.04,846.59 886.24,843.94 884.2,841.6 882.5,839.37 882.15,837.03 879.8,835 879.36,831.82 877.91,829.27 875.4,827.3 872.99,825.98 871.2,822.72 868.8,821.8 865.95,821.01 864.09,817.96 862.1,816.3 861.24,813.75 858.5,812.1 856.6,810.8 854.89,809.87 854.27,807.07 852.2,805.3 851.12,803.02 850.35,801.31 850,798.7 848.2,797.7 848.73,795.44 847.85,793.21 849.3,791.1 848.73,788.5 848.15,786.63 847.1,784.5 848.04,781.54 849.3,779 851.12,776.65 853.7,775.7 855.78,775.07 858.39,774.67 860.3,772.4 862.32,771.34 864.78,772.17 866.9,770.2 869.23,770.67 870.21,773.34 872.4,773.9 871.95,770.76 870.2,768 869.63,765.52 871.78,763.29 871.3,761.4 870.65,758.3 868,755.9 868.7,753.25 870.2,750.4 867.39,750.84 864.87,748.49 862.5,748.2 859.96,748.62 857.76,746.68 855.9,746 854.42,744.42 852.33,742.87 849.3,742.7 847.42,741.12 847.29,738.26 844.9,737.2 841.83,738.15 839,737.41 836.1,738.3 833.84,739.42 831.62,738.61 829.5,739.4 827.53,741.7 824,742.7 821.37,742.23 819.01,740.34 817.4,740.5 814.7,742.7 812.56,744.67 810.3,746.6 811.46,748.92 811.4,751.5 809.12,753.73 807.9,755.9 806.27,754.62 803.1,754.8 800.7,753.4 798.7,751.9 797.63,754.6 795.8,755.8 794.7,758.1 793.02,761.05 794.09,763.66 792.1,765.8 791.04,763.99 788.08,762.85 786.6,761.4 784.84,759.84 783.89,757.26 781.78,755.89 781,753.7 777.96,754.72 776.6,757 775.24,758.94 772.49,759.9 771.47,761.7 770,763.6 767.63,763.44 764.58,763.32 762.52,764.37 759.95,764.94 757.3,765.8 754.7,769.12 754.6,771.3 754.79,773.78 755.97,775.79 756.8,777.9 755.64,779.98 753.39,781.34 751.27,781.88 750.2,784.5 751.4,787.21 752.64,788.49 753.5,791.1 754.12,793.95 754.8,796.19 755.7,798.8 756.53,801.29 759,804.3 760.81,805.9 763.04,807.71 765.6,808.7 765.62,811.42 767.8,813.1 765.82,814.49 763.4,816.4ZM856.6,962.7 858.67,960.95 861.46,959.38 863.3,957.2 866.16,956.84 867.77,954.67 871,955 873.44,955.97 876.12,956.52 878.7,957.2 881.37,957.25 883.87,958.2 886.4,958.3 888.73,958.48 891.73,957.85 894.1,956.1 897.26,955.49 900.33,956.51 902.9,955 905.21,954.79 908.2,954.14 910.6,953.9 912.52,951.91 914.74,951.15 917.2,950.6 916.12,952.82 916.56,955.42 916.1,958.3 914.89,960.66 914.33,963.18 913.9,966 913.34,968.41 911.56,969.92 911.7,972.6 911.82,975.44 912.75,978.09 915,980.3 914.56,983.19 912.8,985.8 912.56,988.95 910.6,990.2 908.39,989.65 906.31,989.28 904,988 901.48,986.5 899.25,985.59 897.4,983.6 894.92,983.3 892.22,982.05 889.7,981.4 887.26,981.5 885.57,980.82 883.1,979.2 881.5,977.22 879.19,975.62 876.5,974.8 874.78,972.6 871.43,972.9 869.9,971.5 868.21,969.47 865.15,969.83 863.3,968.2 861.03,967.71 858.8,966 856.48,964.65ZM773.2,894.4 775,892.17 776.43,891.08 777.6,888.9 780.13,887.14 782.35,886.47 785.3,884.5 787.82,883.11 789.74,882.58 792.02,882.94 794.2,881.2 796.56,881.24 798.6,882.3 799.7,885.03 802.11,886.95 803,890 803.59,892.94 803.9,896.01 805.2,898.8 804.54,900.93 803.95,904.04 803.78,906.93 803.4,909.9 802.44,912.06 803.54,915.6 802.02,917.76 802.5,920.9 800.86,923.64 802.17,926.21 800.73,928.71 800.8,931.9 798.89,932.89 795.67,932.6 794.2,934.1 791.63,936.07 789.8,937.4 787.58,937.6 785.3,938.5 782.86,936.78 780.9,934.1 780.68,931.09 778.3,928.67 778.7,925.3 778.3,922.26 779.29,919.63 780.09,917.41 779.8,914.3 779.66,911.74 778.48,909.85 776.32,908.44 776.5,905.5 775.11,902.38 775.85,899.83 774.27,897.23ZM894.1,1006.7 897.4,1007.8 900.7,1011.1 898.5,1012.2 895.2,1009.3ZM810,843.4 813.7,842.1 816.6,843.8 813.7,845.6Z"/>
<path class="c" fill="#e98d2f" d="M598.3,813.2 596.3,812.43 593.96,811.87 591.5,811.67 589.5,810.4 586.3,810.15 583.63,809.32 580.7,808.2 577.99,808.68 576.7,807.64 574.1,807.1 571.88,805.2 569.51,805.15 568,803.13 565.3,802.7 563.02,802.44 558.8,802.31 556.5,802.7 553.24,802.47 551.13,802.57 547.7,801.6 545.19,801.75 542.93,800.21 540.84,798.49 538.8,798.3 536.54,798.73 534,796.59 532.64,795.97 530,795 527.36,793.69 525.95,792.44 523.4,792.8 521.02,790.97 517.32,791.01 514.6,790.6 511.77,789.04 509.36,789.59 505.8,789.5 503.43,789.45 501.56,787.34 499.08,787.34 497,786.2 494.33,785.17 493.46,782.4 490.4,781.8 488.75,783.96 485.32,783.04 483.8,785.1 482.62,786.71 481.6,788.4 478.16,788.06 475.79,789.6 472.8,788.4 470.28,789.55 466.27,788.94 464,790.6 462.72,792.62 461.8,795 462.46,797.97 464,800.5 463.1,803.54 462.9,806 465.03,808.7 466.2,811.5 465.45,813.98 465.1,817 464,820.3 466.61,820.07 469.95,819.63 472.8,819.2 474.21,821.45 475,825.1 478.55,825.52 480.5,827.3 483.07,827.02 485.4,827.87 488.08,828.23 490.4,828 492.68,828.72 495.15,827.69 498.1,828.9 500.7,829.87 502.42,831.56 504.7,832.8 506.86,834.3 507.12,836.35 508,839 505.55,840.62 503.6,842.7 501.19,844.91 500.44,846.55 497,848.2 496.84,850.58 494.63,852.93 493.7,855.9 493.71,859.29 494.11,862.31 492.6,864.7 490.4,866.54 491.01,869.13 489.3,871.3 487.89,874.36 487.1,876.8 485.29,878.78 484.9,881.7 482.66,882.29 479.92,883.2 477.48,881.22 475,882.3 475.59,885.25 478.3,887.8 480.28,889.58 480.5,893.3 481.09,895.18 481.9,897.15 481.6,899.9 480.27,902.25 479.85,904.47 477.7,906.6 475.65,908.06 475.48,910.84 473.9,912.1 475.11,914.33 474.64,917.2 476.1,919.8 474.07,921.85 472.8,923.1 470.36,923.86 470.01,926.6 467.3,927.5 466.17,929.63 466.67,932.23 465.1,934.1 466.03,936.67 464.11,940.16 465.1,942.4 467.5,944.35 470.6,944 472.9,944.64 474.96,946.43 476.1,948.4 478.1,949.71 479.87,952.03 481.6,953.9 481.81,956.54 484.49,958.65 484.9,960.5 486.54,963.09 486.83,964.77 486,967.1 488.62,968.58 490.4,971.5 492.99,973.77 494.8,975.9 497.28,976.09 499.2,977 500.53,974.85 503.24,974.23 504.7,972.6 507.27,972.11 510.2,971 512.27,970.59 514.65,969.49 516.8,969.3 519.44,969.3 521.22,968.11 523.4,967.1 526.42,966.3 528.67,967.87 531.1,967.1 533.66,967.76 536.48,968.96 538.8,968.8 541.38,969.24 544.01,968.64 546.6,970.4 549.04,971.68 552.02,971.46 554.3,971.5 557.31,971.35 559.62,970.86 562,970.4 563.88,971.89 566.4,973.2 567.75,971.28 569.2,969.17 571.9,967.1 574.59,965.92 575.97,963.88 577.4,961.6 579.68,960.74 581.29,958.37 584,957.2 586.29,956.25 588.71,956.43 590.6,955 593.62,956.74 596.1,956.1 597.03,953.32 597.38,950.21 599.4,948.4 599.96,946.15 603.27,945.29 603.8,942.9 605.19,940.75 607.31,939.01 609.3,937.4 611.05,935.34 614.8,934.1 617.21,932.01 619.2,929.7 617.01,927.85 614.8,926.4 612.96,923.23 611.5,920.9 611.58,918.11 609.92,916.12 610.4,913.2 612.79,911.17 613.36,908.93 614.8,906.6 615.65,903.67 618.33,902.5 620.3,899.9 622.07,897.28 623.81,895.32 625.8,893.3 626.7,891.41 628.96,889.75 631.3,887.8 632.53,885.39 634.6,883.4 636.01,881.9 638.56,880.44 640.1,879 642.64,878.53 644.24,876.65 646.18,875.44 648.9,875.7 651.13,874.86 654.17,873.07 656.6,872.4 659.33,871.79 661.29,869.4 664.3,869.1 667.56,869.01 669.24,865.68 672,865.8 673.81,864.51 675.74,862.18 678.6,861.4 680.95,860.35 681.52,857.09 683,855.9 682.66,852.93 684.1,850 683,847.8 679.72,847.56 677.5,845.6 674.39,845.5 671.45,846.96 668.7,846.7 666.29,845.74 663.83,846 661,844.5 659.44,841.82 657.7,840.1 655.16,838.49 653.15,839.53 651.1,837.9 649.2,836.36 646.54,835.54 644.5,834.6 642.35,833.84 641.16,832.35 637.9,832.4 636.19,832.31 633.47,833.1 631.3,833.5 628.95,832.91 626.97,832.22 624.7,831.3 622.78,829.29 619.87,827.93 617,828 614.33,826.57 611.82,825.47 609.3,823.6 607.63,821.62 604.98,820.34 602.7,819.2 600.5,817.22 600.18,815.04 598.3,813.2ZM662.1,914.3 663.95,912.38 666.18,911.1 668.7,909.9 671.44,909.16 674.31,909.21 676.4,907.2 677.57,908.91 678.6,911 680,913.47 683,914.3 682.5,917.32 679.7,919.8 676.74,921.34 675.3,923.1 672.35,922.73 669.8,919.8 668.26,919.11 666.5,917.6 664.34,916.54ZM690.3,907.2 694,905.5 698.4,907.7 699.5,912.1 695.1,909.9 691.2,909.4ZM637.9,927.5 642.3,924.8 646.3,925.7 644.5,929.7 640.1,931.4Z"/>
<path class="c" fill="#bfcde8" d="M464,820.3 463.33,822.88 462.41,825.94 462.3,828.4 461.59,831.08 460.61,833.75 461.22,836.81 460.7,839.4 460.89,842.94 459.22,844.92 459.04,847.97 457.4,850.4 456.6,852.44 455.56,854.47 455.17,856.61 452.71,858.89 453,861.4 452.83,863.89 451.03,866.15 449.87,868.54 448.96,870.36 447.5,872.4 445.36,874.76 443.48,876.52 442,879 438.87,880.64 437.6,883.4 435.57,885.19 434.48,887.36 434.3,890 434.36,892.93 433.6,895.5 436.48,896.08 437.6,897.7 439.7,896.37 440.9,894.4 443.1,896.6 441.83,899.15 438.98,899.22 437.6,901 439.76,903.75 443.1,904.4 445.3,906.6 442.97,908.99 443.85,912.09 442,914.3 441.49,917.21 441.62,920.19 440.9,923.1 439.47,924.71 440.12,927.71 439.28,930.36 437.6,931.9 436.13,934 436.59,936.29 434.3,938 437.33,938.07 439.89,939.15 442,939.6 443.95,941.31 446.89,940.37 448.6,942.4 450.65,941.86 452.56,943.25 455.2,944 457.75,944.05 460.44,943.11 462.71,944 465.1,942.4 464.11,940.16 466.03,936.67 465.1,934.1 466.67,932.23 466.17,929.63 467.3,927.5 470.01,926.6 470.36,923.86 472.8,923.1 474.07,921.85 476.1,919.8 474.64,917.2 475.11,914.33 473.9,912.1 475.48,910.84 475.65,908.06 477.7,906.6 479.85,904.47 480.27,902.25 481.6,899.9 481.9,897.15 481.09,895.18 480.5,893.3 480.28,889.58 478.3,887.8 475.59,885.25 475,882.3 477.48,881.22 479.92,883.2 482.66,882.29 484.9,881.7 485.29,878.78 487.1,876.8 487.89,874.36 489.3,871.3 491.01,869.13 490.4,866.54 492.6,864.7 494.11,862.31 493.71,859.29 493.7,855.9 494.63,852.93 496.84,850.58 497,848.2 500.44,846.55 501.19,844.91 503.6,842.7 505.55,840.62 508,839 507.12,836.35 506.86,834.3 504.7,832.8 502.42,831.56 500.7,829.87 498.1,828.9 495.15,827.69 492.68,828.72 490.4,828 488.08,828.23 485.4,827.87 483.07,827.02 480.5,827.3 478.55,825.52 475,825.1 474.21,821.45 472.8,819.2 469.95,819.63 466.61,820.07 464,820.3Z"/>
<path class="c" fill="#e98d2f" d="M1020.9,695.1 1022.75,693.94 1026.37,694.32 1028.6,692.2 1031.3,691.55 1034.42,691 1037.4,692.2 1039.4,690.77 1042.3,690.45 1044.81,691.42 1047.3,691.1 1049.22,692.61 1051.04,693.54 1053.49,694.2 1056.1,694.4 1057.46,693.04 1059.22,691.42 1061.6,690 1063.58,688.08 1065.92,688.18 1068.2,687.8 1070.84,686.15 1073.7,684.5 1074.61,681.78 1077.37,680.15 1078.1,677.9 1079.62,675.7 1080.11,673.87 1082.5,673 1084.83,673.8 1084.69,676.43 1086.9,677.9 1088.06,680.59 1089.71,683.15 1092.4,684.5 1094.48,686.12 1096.36,689.43 1097.9,691.1 1099.47,693.15 1102.01,694.49 1103.4,696.6 1104.55,698.85 1106.87,701.51 1108.9,702.1 1111.4,703.68 1111.34,706.22 1113.3,708.7 1114.29,711.11 1115.97,712.39 1116.6,715.3 1117.41,717.33 1119.27,718.81 1118.63,721.98 1119.9,723.8 1119.47,725.97 1120.89,728.04 1121,730.4 1123.2,732.55 1123.3,735.9 1124.4,737 1127.31,737.61 1129.9,739.2 1131.59,737.89 1134.09,738.99 1136.5,738.1 1139.31,737.82 1140.97,736.23 1143.1,734.8 1145.77,734.88 1147.9,734.4 1148.56,737.2 1149.7,739.2 1150.26,741.98 1149.7,744.7 1147.27,746.1 1146.4,749.1 1144.58,752.22 1142,753.5 1140.81,755.11 1140.87,758.42 1139.8,760.1 1139.82,762.92 1139.72,765.42 1138.7,767.8 1139.08,769.91 1139.77,771.86 1139.1,774.4 1139.35,777 1139.8,779.9 1137.54,778.44 1134.03,779.5 1132.1,777.7 1129.87,776.17 1126.51,777.87 1124.4,776.6 1122,775.45 1119.21,775.22 1116.6,775.5 1113.44,775.8 1111.27,777.79 1107.8,777.7 1105.59,779.95 1102.32,779.54 1100.1,781 1097.97,782.98 1095.37,783.15 1093.5,785.5 1091.89,787.07 1090.21,789.53 1088,789.9 1085.51,790.62 1082.5,790.04 1079.2,792.1 1076.56,794 1073.02,793.74 1070.4,794.3 1067.07,794.64 1064.68,795.45 1061.6,796.5 1058.07,797.04 1055.46,797.16 1052.8,797.6 1049.62,797.54 1047.27,797.9 1044,797.6 1041.25,795.37 1038.5,794.3 1035.68,793.15 1035.2,791 1033.89,788.96 1032,786.7 1032.17,784.21 1030.35,782.28 1029.8,780.1 1027.28,778.33 1024.2,777.9 1021.82,778.36 1019.16,779.35 1016.5,779 1014.25,777.64 1011.81,777.29 1009.9,775.7 1007.81,773.23 1007.91,771.29 1007.7,769.1 1005.38,768.36 1003.79,766.29 1002.2,764.7 999.37,763.42 998.47,761.78 996.7,760.3 994.65,757.8 994.55,755.31 992.3,753.7 990.95,751.68 989.74,749.99 987.9,748.2 990.7,747.74 992.55,745.75 994.51,743.25 996.7,742.7 996.85,740.31 999.17,738.37 1001.1,736.1 1000.88,733.61 1002.88,731.51 1004.52,729.57 1004.4,727.3 1005.95,724.98 1006.68,723.12 1006.65,720.16 1007.7,718.5 1007.99,715.98 1008.45,712.33 1009.9,709.7 1011.61,707.69 1013.14,705.69 1014.3,703.1 1015.55,701.51 1018.73,700.37 1019.48,698.14 1020.9,696.5Z"/>
<path class="c" fill="#bfcde8" d="M1082.5,673 1085.18,672.81 1087.43,672.21 1089.1,670.2 1091.48,669.27 1094.13,668.62 1096.8,668 1099.06,669.13 1101.14,669.51 1103.4,670.2 1105.38,670.06 1108.23,670.95 1110,672.4 1112.36,672.16 1114.41,673.17 1116.6,673.5 1118.75,673.01 1120.9,673.72 1123.3,673.5 1124.27,675.51 1124.61,677.95 1125.5,680.1 1126.12,683.19 1127.76,684.49 1129.9,686.7 1131.68,686.73 1134.3,686.7 1134.4,689.45 1135.4,692.2 1137.93,694.23 1139.8,696.6 1141.03,699.53 1144.2,701 1144.65,703.35 1146.39,705.76 1146.4,707.6 1143.46,708.11 1140.9,708.7 1138.18,708.9 1135.4,709.8 1132.87,711.9 1132.1,715.3 1130.32,718.49 1131,721.6 1130.93,724.43 1129.38,726.06 1127.7,728.2 1126.18,731.05 1125.9,733.7 1124.4,737 1123.3,735.9 1123.2,732.55 1121,730.4 1120.89,728.04 1119.47,725.97 1119.9,723.8 1118.63,721.98 1119.27,718.81 1117.41,717.33 1116.6,715.2 1115.97,712.39 1114.29,711.11 1113.3,708.7 1111.34,706.22 1111.4,703.68 1108.9,702.1 1106.87,701.51 1104.55,698.85 1103.4,696.6 1102.01,694.49 1099.47,693.15 1097.9,691.1 1096.36,689.43 1094.48,686.12 1092.4,684.5 1089.71,683.15 1088.06,680.59 1086.9,677.9 1084.69,676.43 1084.83,673.8 1082.5,673Z"/>
<path class="c" fill="#bfcde8" d="M1035.2,791 1035.68,793.15 1038.5,794.3 1041.25,795.37 1044,797.6 1047.27,797.9 1049.62,797.54 1052.8,797.6 1055.46,797.16 1058.07,797.04 1061.6,796.5 1064.68,795.45 1067.07,794.64 1070.4,794.3 1073.02,793.74 1076.56,794 1079.2,792.1 1082.5,790.04 1085.51,790.62 1088,789.9 1090.21,789.53 1091.89,787.07 1093.5,785.5 1095.37,783.15 1097.97,782.98 1100.1,781 1102.32,779.54 1105.59,779.95 1107.8,777.7 1111.27,777.79 1113.44,775.8 1116.6,775.5 1119.21,775.22 1122,775.45 1124.4,776.6 1126.51,777.87 1129.87,776.17 1132.1,777.7 1134.03,779.5 1137.54,778.44 1139.8,779.9 1139.21,782.33 1140.03,784.44 1139.1,786.6 1138.23,788.99 1135.65,789.35 1134.3,791 1133.94,793.46 1132.73,795.95 1132.1,798.7 1132.12,801.23 1132.47,804.32 1131.6,806.4 1131.15,808.83 1128.54,810.55 1128.8,813 1130.02,815.8 1132.1,817.4 1133.41,819.26 1135.87,820.95 1137.6,822.9 1139.1,824.2 1136.29,824.63 1134.75,825.8 1132.1,826.2 1129.91,826.54 1126.93,826.59 1124.4,827.3 1121.6,827.81 1120.65,829.87 1117.7,830.6 1116.04,832.65 1114.93,834.15 1113.3,836.1 1115.05,838.18 1114.7,840.5 1112.34,840.14 1110.4,838.1 1108.27,839.65 1106.1,839.8 1107.19,842.19 1106.1,844 1103.35,845.73 1100.2,846.6 1098.61,847.82 1095.83,847.51 1093.4,849.1 1090.94,849.08 1088.02,849.19 1085,849.9 1082.69,848.9 1081.16,848.95 1078.2,849.9 1075.78,849.13 1074.14,849.47 1071.4,848.3 1068.25,849.47 1066.47,851.32 1063,851.6 1059.74,851.95 1057.11,852.82 1054.5,854.2 1051.72,855.58 1050.53,856.88 1047.7,858.4 1049.02,857.68 1049.7,853.7 1048.93,850.33 1048.5,847.7 1046.29,844.99 1046.2,841.8 1044.27,839.89 1041.4,839.4 1040.84,837.14 1037.9,835.9 1036.7,832.3 1035.63,830.04 1034.9,827.6 1035.56,824.9 1035.5,822.8 1037.29,820.63 1040.2,819.3 1042.1,817.19 1043.2,814.5 1042.44,812.64 1041.4,811 1039.25,809.02 1036.7,807.4 1033.29,806.37 1031.9,803.9 1031.98,800.75 1029.6,797.9 1030.8,794.4 1032.17,792.05 1034.3,789.6Z"/>
<path class="c" fill="#4050a1" d="M1004.7,852.5 1005.09,849.51 1007,847.7 1008.26,845.3 1011.8,844.2 1014.84,843.79 1017.7,841.8 1020.4,840.98 1023.6,839.4 1026.42,837.18 1029.6,837.1 1032.95,836.81 1035.5,836.5 1036.9,838.04 1039.02,839.43 1041.4,839.4 1044.27,839.89 1046.2,841.8 1046.29,844.99 1048.5,847.7 1048.93,850.33 1049.7,853.7 1049.02,857.68 1047.4,859.6 1046.39,861.48 1045,863.2 1042.42,864.69 1039.1,865.5 1036.33,865.76 1035.4,867.78 1033.1,869.1 1031.2,870.64 1029.48,871.44 1027.2,872.1 1024.47,873.96 1021.3,873.8 1019.07,874.81 1016.5,875.13 1014.2,876 1012.94,873.82 1010.6,873.8 1009.5,871.39 1007,869.1 1004.93,866.52 1004.7,863.2 1003.78,860.08 1003.5,857.2 1004.32,854.42 1004.7,852.5Z"/>
<path class="c" fill="#e98d2f" d="M1003,908.8 1004.38,906.11 1003.64,903.07 1004.7,900 1005.9,898.7 1008.34,897.75 1010.6,895.2 1010.55,892.57 1011.8,890.4 1012.89,888.42 1013,885.7 1015.67,883.04 1016.5,880.9 1015.86,877.78 1014.2,876 1016.5,875.13 1019.07,874.81 1021.3,873.8 1024.47,873.96 1027.2,872.1 1029.48,871.44 1031.2,870.64 1033.1,869.1 1035.4,867.78 1036.33,865.76 1039.1,865.5 1042.42,864.69 1045,863.2 1046.39,861.48 1047.4,859.6 1050.53,856.88 1051.72,855.58 1054.5,854.2 1057.11,852.82 1059.74,851.95 1063,851.6 1066.47,851.32 1068.25,849.47 1071.4,848.3 1074.14,849.47 1075.78,849.13 1078.2,849.9 1081.16,848.95 1082.69,848.9 1085,849.9 1088.02,849.19 1090.94,849.08 1093.4,849.1 1095.83,847.51 1098.61,847.82 1100.2,846.6 1103.35,845.73 1106.1,844 1107.19,842.19 1106.1,839.8 1108.27,839.65 1110.4,838.1 1112.34,840.14 1114.6,840.6 1115.29,843.34 1115.4,845.7 1114.42,848.87 1112.9,850.8 1113.04,853.27 1113.7,855.9 1113.47,858.72 1111.2,860.9 1112.1,863.5 1109.53,861.77 1107,860.1 1104.72,861.3 1102.1,860.07 1100.2,860.1 1097.7,860.68 1095.1,859.3 1092.4,859.85 1090,860.1 1087.95,860.92 1085,862.6 1082.65,863.16 1079.9,863.5 1077.3,866 1075.84,867.86 1074,868.6 1071.21,869.83 1068,870.3 1069.06,872.69 1070.6,874.5 1072.64,876.19 1074.8,877 1076.06,879.19 1079,879.6 1080.7,883 1078.69,881.36 1076.5,881.3 1074.84,879.52 1072.3,878.7 1073.66,881.16 1074,883.8 1073.1,887.2 1070.96,887.08 1069.7,884.6 1068,881.3 1067.18,882.86 1064.6,884.6 1063.65,887.04 1063,888.9 1060.4,886.3 1061.3,883 1057.9,881.3 1056.08,879.29 1053.6,879.6 1051.1,877 1049.44,879.72 1047.7,881.3 1048.22,883.28 1048.6,886.3 1049.51,889.13 1051.1,891.4 1053.35,893.74 1054.5,896.5 1055.73,898.86 1057.9,900.7 1058.72,903.67 1061.3,905 1063.48,905.94 1063.8,908.4 1060.4,908.4 1057,910 1058.7,913.4 1062.1,912.6 1064.6,915.1 1066.97,916.39 1069.7,917.7 1072.26,919.43 1074.8,920.2 1077.09,922.22 1079.9,922.7 1081.2,923.54 1083.53,925.7 1085,927 1087.24,929.15 1090,930.4 1093.4,931.2 1092.6,934.6 1090.34,933 1088.4,933.7 1086.44,931.72 1084.1,931.2 1081.99,933.08 1079.9,933.7 1082.21,934.32 1083.3,937.1 1084.32,938.63 1085,941.4 1081.6,939.7 1078.8,938.43 1076.5,936.3 1074.66,936.6 1072.3,935.4 1070.44,935.85 1068,938 1066.31,936.83 1064.6,935.4 1061.82,935.14 1060.4,932.9 1057.8,933.37 1054.5,932.1 1052.49,931.74 1049.71,933.87 1047.7,932.9 1045.81,934.25 1042.6,934.6 1039.9,935.82 1037.6,935.4 1035.02,935.89 1032.5,937.1 1030.43,936.16 1028.3,935.4 1025.61,933.98 1024.9,931.2 1023.25,929.41 1021.5,927 1020.28,924.58 1018.1,924.4 1020.3,923.29 1024,922.7 1023.2,920.2 1020.65,920.8 1018.1,921 1015.22,920.37 1014.7,918.5 1012.07,917.57 1011.3,915.1 1009.85,912.27 1007.1,910.9 1005.27,909.91 1003.7,908.4ZM1028.3,947.3 1029.05,944.55 1030.8,941.9 1032.37,940.14 1035.7,939.74 1036.7,937.5 1039.63,937.95 1042.6,935.9 1044.46,935.63 1046.67,937.84 1049.4,937.1 1051.6,937.98 1053.89,937.7 1056.2,938 1058.28,937.97 1060.38,939.67 1063,939.7 1064.84,939.78 1067.2,938.8 1069.7,941.4 1068,944.8 1064.6,943.9 1065.44,946.62 1067.2,949 1069.58,948.73 1072.3,949.8 1074,952.4 1071.88,952.24 1069.7,953.2 1067.05,951.87 1064.6,951.5 1061.3,952.4 1062.99,954.69 1063,956.6 1064.2,959.13 1065.5,961.7 1066.75,965.08 1068,967.6 1069.5,969.71 1070.19,972.27 1071.4,974.4 1070.6,976.9 1067.81,975.32 1066.3,972.7 1065.26,969.81 1063,967.6 1060.95,965.55 1059.6,963.4 1056.2,964.2 1057.62,966.29 1058.62,969.05 1058.7,971 1059.02,974.41 1060.4,976.9 1057,978.6 1054.98,976.77 1055.12,974.37 1053.6,972.7 1051.94,969.77 1051.1,966.8 1047.7,967.6 1046.78,969.86 1045.03,971.75 1044.3,974.4 1041.8,972.7 1041.19,970.02 1040.9,966.8 1040.26,963.96 1039.3,960.8 1037.17,958.33 1035.9,955.8 1033.62,953.88 1031.6,951.5 1029.48,949.99ZM1084.4,1003.6 1085.44,1000.46 1085.4,998.2 1087.39,997.08 1088.3,994.8 1090.44,993.67 1093.71,994.33 1095.9,994.5 1097.37,996.33 1099.3,997.3 1102.2,998.33 1105.2,997.9 1107.71,996.68 1111.1,996.5 1113.46,995.98 1115.97,996.16 1117.9,995.7 1120.29,996.06 1122.31,994.89 1124.6,995.1 1126.87,993.99 1128.9,993.1 1131.44,994.57 1134.8,995.7 1136.9,995.06 1139,993.1 1140.2,996.5 1139,999.9 1136.26,1000.26 1134.61,1001.79 1132.3,1002.4 1129.07,1003.32 1126.9,1002.94 1124.6,1004.1 1122.55,1005.56 1120.33,1005.51 1117.9,1005.8 1115.62,1006.89 1113.26,1006.42 1111.1,1007.5 1109.88,1004.97 1107.7,1004.1 1104.85,1004.09 1102.97,1003.34 1100.9,1002.4 1098.68,1003.1 1096.4,1002.44 1094.2,1004.1 1091.39,1003.23 1088.3,1003.6ZM993.5,905 996.1,904.1 998.6,908.4 1001.2,912.6 999.5,913.4 996.1,910ZM1011.3,938 1014.7,937.1 1018.9,940.5 1018.1,943.9 1013.9,943.9 1011.3,941.4ZM1014.4,927 1016.4,926.1 1016.9,931.2 1015.2,933.7ZM1018.1,949 1021.5,949 1024,952.4 1021.5,954.1 1018.6,951.5ZM1081.6,866.9 1085,865.7 1086.7,868.6 1084.1,871.1 1081.6,869.8ZM1099.9,869.4 1103.2,868.1 1104.4,870.3 1101.6,871.4ZM1094.3,883.8 1098.5,882.1 1101,883 1100.2,887.2 1096.8,887.2 1094.8,886ZM1112.9,898.2 1114.42,895.67 1117.1,894.8 1120.22,895.24 1123.1,894.8 1124.08,897.14 1127.3,898.2 1126.4,901.6 1124.19,901.33 1121.4,902.4 1119.42,902.09 1116.3,901.6 1113.86,900.07ZM1116.3,916 1119.7,913.8 1122.5,916 1121.9,921 1119.7,923.6 1117.1,921ZM1134.1,931.2 1138.3,929.5 1142.2,930.7 1140,932.9 1135.4,933.2ZM1121.9,938.8 1125.9,936.3 1127,937.5 1123.1,940.5ZM1085.8,910.9 1089.2,910 1090.9,913.4 1088.4,915.1ZM1096.5,934.6 1098.5,933.4 1103.2,937.1 1101.9,938.8 1098.5,937.1ZM1104.4,940.5 1108.7,940.2 1109.5,942.2 1105.6,942.5ZM1112.9,950.7 1116.3,949.8 1117.5,954.1 1115.1,956.6 1112.9,954.1ZM1107.3,953.2 1110.7,951.5 1111.7,954.9 1108.7,956.1ZM1156.1,951.5 1161.2,949 1163.7,949 1161.2,951.5 1156.9,953.2ZM1163.7,962.5 1166.85,960.47 1167.9,958.3 1169.67,956.61 1172.2,955.8 1172.7,959.1 1170.83,960.1 1170.66,962.95 1169.6,965.1 1168.57,967.5 1166.2,970.1 1164.2,966.8 1165.13,964.38ZM1152.7,980.3 1154.7,978.6 1156.1,982.8 1154.4,985.4ZM1067.2,980.3 1070.1,979.1 1072.3,982 1070.1,984.5 1067.7,983.2Z"/>
<path class="c" fill="#e98d2f" d="M1114.7,840.5 1115.05,838.18 1113.3,836.1 1114.93,834.15 1116.04,832.65 1117.7,830.6 1120.65,829.87 1121.6,827.81 1124.4,827.3 1126.93,826.59 1129.91,826.54 1132.1,826.2 1134.75,825.8 1136.29,824.63 1139.1,824.2 1140.8,826.43 1143.34,828.22 1145.3,830.6 1147.43,832.16 1149.53,833.35 1151.29,834.3 1154.1,835 1156.11,835.99 1158.55,836.81 1161.8,836.45 1163.7,836.3 1166.72,836.31 1169.24,834.73 1172.1,834.9 1174.88,834.15 1177.8,834.76 1180.69,833.98 1183.1,833.3 1186.29,832.9 1188.39,833.45 1191.7,832.7 1194.1,831.1 1197.57,831.36 1199.45,830.36 1201.8,828.9 1203.51,826.42 1204,823.4 1205.81,821.55 1207.7,819.86 1209.5,817.9 1212.05,816.57 1212.87,814.44 1215.01,813.32 1216.1,811.3 1216.94,808.76 1219.56,807.63 1221.26,807.12 1222.7,804.7 1224.04,802.02 1227.66,801.43 1229.3,799.2 1231.62,797.1 1233.05,796.03 1235.9,794.8 1238.8,794.1 1241.84,794.55 1244.7,792.6 1248.18,792.25 1250.01,791.2 1253.5,790.4 1256.24,790.37 1258.52,788.6 1260.1,787.1 1262.47,786.48 1263.4,784.3 1264.6,786.14 1265.6,788.2 1267.85,789.41 1270.47,790.22 1272.2,791.5 1274.26,789.79 1276.47,788.91 1278.8,788.7 1282.1,787.1 1284.46,788.82 1286.5,790.4 1288.84,790.76 1291.1,792.88 1293.1,794.4 1295.06,793.74 1297.78,793.22 1299.7,790.9 1302.85,791.17 1304.45,792.06 1307.4,790.9 1310.16,791.85 1312.18,791.62 1315.1,791.5 1318.14,790.61 1320.37,791.25 1323.9,790 1326.28,789.79 1328.12,789.08 1330.22,786.7 1332.7,787.1 1335.67,786.2 1336.72,783.69 1339.3,782.7 1341.92,782.42 1343.15,779.78 1345.9,779.4 1348.69,777.77 1351.86,778.32 1354.7,777.7 1356.92,776.47 1359.48,774.56 1362.4,773.9 1364.57,772.43 1365.37,769.34 1367.9,767.3 1369.36,764.8 1370.94,763.35 1372.3,760.7 1372.97,757.7 1374.58,756.97 1376.49,754.95 1377.8,753 1380.19,751.35 1381.83,749.73 1385.5,748.6 1388,746.81 1390.34,746.57 1393.2,745.3 1395.45,744.08 1396.82,742.23 1398.7,741.6 1401.27,742.87 1403.59,741.96 1406.19,742.99 1408.93,742.24 1411.55,742.44 1414.2,742 1414.1,745.12 1413.11,747 1414.46,750.44 1414.9,752.66 1414.01,754.5 1414.7,757.76 1415.38,760.45 1413.9,763.15 1413,765.73 1414.06,768.01 1414.58,770.91 1415.4,773.42 1415.09,776.1 1413.99,778.9 1413,781.99 1413.52,783.74 1413.46,786.45 1414.39,789.18 1414.81,791.95 1414.9,794.78 1413.83,797.08 1413.85,799.59 1413.74,802.49 1414.85,805.12 1413,807.02 1414.16,809.89 1414.58,813.24 1413.46,815.62 1413.37,818.31 1413,821.13 1414.14,823.2 1414.69,825.72 1413.09,828.44 1413.37,830.89 1413.09,833.44 1413.87,836.55 1414.5,838.81 1415.4,841.5 1413,844.37 1413.74,846.74 1414.58,849.79 1414.2,852.1 1413.47,854.64 1411.49,856.46 1409.16,857.27 1408.02,860.51 1406.67,861.55 1404.68,862.73 1402.87,865.48 1400.9,866.4 1398.24,867.06 1396.58,870.19 1394.3,871.9 1391.01,873.08 1389.29,874.94 1387.7,877.4 1385.99,879.73 1383.77,880.75 1381.1,881.8 1379.23,883.66 1376.01,883 1374.5,885.1 1372.46,884.2 1370.07,883.71 1367.9,884 1365.32,884.59 1363.81,884.95 1361.3,885.1 1358.55,886.81 1357.71,888.93 1354.7,889.5 1353.05,891.07 1350.14,892.59 1348.1,893.9 1345.62,894.86 1343.41,895.66 1341.5,897.2 1338.72,896.89 1335.9,898.29 1332.7,898.3 1332.81,900.62 1332.38,902.91 1331.6,904.9 1332.26,908.33 1334.9,910.4 1333.52,911.58 1331.73,913.88 1330.5,915.9 1329.86,918.3 1329.21,921.38 1329.4,924.2 1326.65,922.15 1323.9,922.5 1322.92,920.47 1320.71,918.49 1319.5,917 1319.59,913.8 1321.77,912.46 1321.7,909.3 1322.16,906.9 1321.26,904.66 1322.8,902.7 1321.28,900.65 1318.4,900.5 1316.74,902.48 1315.67,904.2 1314,906 1311.86,908.02 1310.62,909.67 1308.5,911.5 1304.79,912.66 1302.83,913.18 1299.7,913.7 1297.63,914.93 1294.62,915.9 1293.1,917 1292.03,919.57 1290.3,920.36 1288.7,922.5 1286.65,924.71 1285.4,928 1282.94,929.33 1281.73,931.18 1278.8,931.3 1276.79,932.85 1274.49,933.88 1272.2,935.7 1269.24,937.46 1266.89,938.28 1264.5,940.1 1262.12,939.45 1260.18,938 1257.9,936.8 1255.56,935.2 1253.12,934.4 1251.3,933.5 1248.15,932.62 1245.68,932.35 1242.5,931.3 1239.67,930.83 1236.78,931.26 1233.7,931.3 1230.63,932.04 1227.41,931.62 1224.9,932.4 1222.57,931.91 1220.48,933.84 1218.3,934.6 1217.48,937.15 1216.1,940.1 1217,937.1 1216.37,939.34 1216.2,942.2 1214.24,944.68 1214.5,948.1 1211.78,948.59 1209.4,949.8 1207.6,951.38 1205.2,952.4 1202.3,952.96 1200.1,954.9 1197.74,954.7 1195.9,954.1 1194.04,951.8 1190.8,951.5 1188.2,949.76 1185.7,948.1 1183.56,946.37 1180.6,946.4 1177.67,946.57 1174.7,945.6 1171.3,947.3 1167.9,949 1166.92,946.78 1167.1,943.9 1164.92,945.28 1162.8,944.8 1160.17,944.85 1157.8,946.4 1155.18,947.2 1152.7,945.6 1156.1,943.9 1153.15,942.74 1151,940.5 1148.58,937.85 1148.5,935.4 1145.85,934.5 1145.1,932.1 1146.8,928.7 1147.04,926.25 1145.1,924.4 1142.91,922.17 1140.8,921 1138.59,918.94 1137.4,916.8 1136.25,915.36 1134.87,913.52 1132.4,912.6 1134.3,913.99 1136.6,915.1 1134.87,915.31 1132.4,916.8 1129.28,916.29 1127.3,916.8 1127.13,914.86 1126.4,912.6 1129,910.9 1131.17,909.37 1133.2,908.4 1134.94,906.85 1136.6,905 1134.42,904.2 1133.2,901.6 1131.3,898.75 1129.8,896.5 1128.05,893.53 1125.6,892.3 1127.25,890.53 1128.98,888.65 1130.7,888 1127.3,887.2 1124.83,887.06 1122.67,888.77 1120.5,889.7 1118.55,888.64 1115.4,886.3 1116.48,883.79 1117.1,881.3 1115.8,879.37 1115.4,875.3 1116.3,872 1118.34,869.67 1119.7,866.9 1122.1,864.5 1123.9,862.3 1120.5,863 1117.39,862.77 1115.4,864.7 1112.1,863.5 1111.2,860.9 1113.47,858.72 1113.7,855.9 1113.04,853.27 1112.9,850.8 1114.42,848.87 1115.4,845.7 1115.29,843.34 1114.6,840.6ZM1106.1,875.8 1109.5,874.5 1111.2,876.2 1107.8,878.2Z"/>
<path class="c" fill="#e98d2f" d="M543.7,512.1 545.71,510.29 547.25,508.44 549.2,506.6 552.09,506.41 554.65,504.27 558,504.4 560.87,504.7 563.73,504.45 566.8,503.3 568.91,504.3 569,506.6 566.69,507.91 564.6,509.9 567.79,509.24 570.25,509.68 573.4,508.8 576.23,508.2 578.4,509.22 581.1,508.8 582.46,511.49 583.3,514.3 583.01,517.25 583.7,520.39 584.4,523.1 585.91,524.65 585.52,527.51 586.6,529.7 584.69,530.72 584.4,533 582.07,532.34 580,534.1 577.71,534.83 575.6,537.4 572.3,538.5 572.78,541.14 571.5,544 572.3,547.3 573.5,550.02 571.2,553.36 572.3,556.1 571.1,559.23 570.47,561.65 570.1,564.9 569.81,567.09 566.93,568.64 566.8,571.5 565.42,573.05 563.85,575.3 562.4,577 562.6,579.36 561.3,581.4 559.21,579.89 556.14,580.12 553.6,580.3 550.85,581.01 546.81,581.49 544.8,582.5 542.38,583.35 539.48,584.34 536.75,585 533.8,585.8 530.5,585.24 528.09,585.72 525.62,587.2 522.8,588 520.24,587.08 517.45,587.79 516.27,588.62 512.9,588 511.08,585.44 508.5,584.7 507.27,582.2 505.2,580.3 505.92,577.7 506.3,574.8 504.35,573.55 503.42,571.56 501.9,569.3 504.07,568.39 506.55,567.04 508.5,566 510.47,563.85 513.13,562.71 516.2,562.7 517.3,560.21 519.5,558.3 521.16,555.25 523.9,553.9 523.27,551.43 521.7,550.6 523.91,550.3 526.25,549.76 528.3,548.4 525.87,546.56 522.8,546.2 519.87,545.45 518.4,544 519.13,541.06 519.5,538.5 518.02,536.2 515.1,535.2 517.4,532.42 520.6,531.9 521.08,529.87 521.7,526.4 522.46,524.66 522.58,521.77 522.8,519.8 524.71,518.33 526.6,518.35 529.4,518.7 532.06,518.62 533.67,519.37 536,520.9 538.73,521.54 540.54,523.01 542.6,523.1 545.11,521.23 548.1,520.9 549.39,518.47 550.3,515.4 548.62,513.64 545.61,513.23Z"/>
<path class="c" fill="#e2623e" d="M615.6,432.2 618.04,434.18 621,433.8 624.3,433.87 627.4,434.8 629.19,433.73 631.34,435.03 633.9,434.3 637.27,434.1 640.3,433.8 639.67,436.3 639.8,438.1 638.1,439.67 636,441.3 633.47,442.81 631.7,445.1 630.34,446.91 628.5,448.3 627.73,450.33 625.8,451.5 623.92,452.96 624.2,455.3 625.3,456.9 627.97,456.41 629.6,457.4 632.19,458 634.9,458 637.06,458.95 639.58,458.78 641.4,459 644,460.18 646.8,460.1 648.16,460.95 650.5,461.7 652.2,464.9 651,466.71 651.1,469.2 649.46,471.47 648.4,473.5 647.21,475.87 645.7,477.8 643.3,478.81 642.5,481.6 640.7,483.77 639.2,484.8 636.36,485.73 634.9,487.5 632.47,486.88 630.6,488.6 627.4,490.8 629.6,489.76 631.7,490.8 633.9,492.9 632.94,495.5 630.6,496.1 628.24,497.27 626.3,498.3 623.1,497.2 619.9,496.7 622.11,499.01 625.3,499.4 627.81,499.44 630.6,498.8 632.35,500.19 634.9,500.4 636.42,502.5 639.2,503.7 639.78,505.66 641.4,507 641.7,509.9 643.44,511.86 642.8,514.62 645,516.5 644.97,519.64 645.25,522.28 646.1,525.3 646.66,528.18 646.76,531.1 647.2,534.1 649.61,535.23 651.61,537.98 652.7,540.7 653.24,542.95 656.64,544.45 657.1,547.3 658.21,549.25 659.39,551.39 659.19,554.77 660.4,556.1 660.89,557.45 661.77,560.56 661.5,562.7 659.84,561.04 656.98,561.28 654.9,560.5 656.04,562.26 658.89,563.11 659.35,565.76 661.5,567.1 662.35,569.59 663.79,571.8 664.8,573.7 664.33,575.94 663.06,577.83 663.7,580.3 665.75,581.09 668.1,581.4 670.61,583.23 674.03,582.67 676.9,583.6 678.44,585.5 680.16,586.34 682.4,588 683.34,589.76 684.16,592.7 684.6,594.6 683.89,596.51 684.98,599.61 683.5,601.2 682.33,604.24 680.2,606.7 679.05,609.07 675.65,608.81 674.7,611.1 671.71,612.64 669.2,614.4 665.94,615.61 665.63,616.5 663.7,618.8 665.69,619.8 668.03,620.76 670.3,622.1 672.9,623.07 675.8,624.3 673.57,626.62 672.5,629.8 671.04,631.87 668.54,632.4 665.9,633.1 663.32,633.06 661.45,634.45 659.3,635.3 657.02,635.06 654.66,633.99 652.7,633.1 650.38,632.76 648.09,632.02 646.1,632 644.36,633.73 641.09,632.4 639.5,634.2 636.76,633.85 635.38,636.84 632.9,636.4 631.79,633.54 630.7,630.9 628.13,631.11 625.92,632.09 624.1,632 621.71,632.32 619.19,631.22 616.4,630.9 613.75,630.31 611.2,629.56 608.7,629.8 606.39,630.15 603.07,631.19 599.9,630.9 598.23,633.41 595.6,634.54 593.3,636.4 591.24,637.45 588.8,638.6 586.74,637.48 584.23,636.1 582.2,636.4 580.37,637.57 577.48,636.46 575.6,637.5 573.82,638.05 571.25,639.38 569,639.9 566.9,639.51 564.6,638.6 562.96,637.16 562.4,635.3 564.27,633.91 566.96,632.92 569,630.9 571.96,630.37 573.72,628.26 575.6,626.5 577.76,625.49 578.58,622.58 581.1,622.1 583.67,621.58 584.72,618.76 586.6,617.7 588.5,616.15 590.82,616.18 592.75,614.94 595.5,615.5 598.53,613.91 601.42,613.84 604.3,614.4 606.45,613.22 608.46,611.52 610.9,611.1 612.26,608.58 615.3,607.8 612.96,606.94 610.9,607.8 609.08,608.86 606.38,608.92 604.7,610.94 602.1,611.1 599.24,609.76 596.85,609.62 595.5,607.8 593.86,606.79 591.68,604.54 589.9,603.4 587.06,601.35 584.4,600.1 580.97,599.72 578.9,597.9 578.63,595.83 577.8,593.5 580.44,592.81 581.88,591.48 584.4,591.3 586.33,589.94 589.18,587.94 592.1,588 594.24,585.85 596.77,584.7 597.7,582.5 599.4,580.49 599.01,577.62 599.9,575.9 597.08,574.41 595.5,571.5 592.92,571.56 591,571.5 592.81,570.21 594.84,568.51 596.6,567.1 599.36,566.63 602.1,564.9 605.6,565.38 608.41,563.39 610.9,563.8 613.04,565.23 615.42,564.58 617.5,564.9 619.42,563.37 620.01,560.79 620.8,558.3 621.55,555.91 621.23,553.57 619.7,551.7 621.35,549.46 621.9,547.3 619.08,545.18 617.5,542.9 616.48,540.55 614.85,538.73 615.3,536.3 615.35,533.93 614.2,531.9 616.15,530.61 617.72,527.81 619.7,527.5 618.89,525.52 617.5,524.2 615.95,524.71 613.61,525.55 610.9,525.3 608.81,525.73 606.28,526.51 604.3,526.4 602.34,524.75 599.9,523.1 597.68,524.19 596.6,525.3 595.84,522.41 594.4,519.8 595.25,516.79 597.7,514.3 599.34,512.75 600.64,510.95 601.03,508.4 603.2,507 603.8,503.7 604.8,500.4 604.3,496.7 602.55,494.97 600.5,494 598.43,492.04 596.2,491.8 595.68,489.82 596.2,487.5 595.2,483.8 596.65,482.71 597.3,480.5 600,477.8 596.2,478.4 593,477.3 591.4,474.6 593,471.4 595.2,468.2 597.8,466 596.2,464.9 593,463.3 591.4,460.1 589.2,457.4 587.6,454.2 589.2,452 591.28,452.69 593,451 594.6,453.1 595.04,455.14 595.7,457.4 597.3,460.6 599.5,460.1 598.9,457.4 600.5,454.2 601.08,452.17 601.6,449.9 602.63,447.46 604.8,447.2 606.49,446.16 608.1,444.5 610.04,442.03 610.2,440.2 612.61,438.97 613.4,435.9 615.06,434.14 615.6,432.2ZM564.6,509.9 568.25,510.33 570.39,510.05 573.4,508.8 575.85,508.06 578.27,508.52 581.1,508.8 583.39,511.3 583.3,514.3 583.66,516.74 583.68,521.17 584.4,523.1 584.95,525.17 586,527.71 586.6,529.7 585.61,531.1 584.4,533 581.86,533.27 580,534.1 577.02,535.26 575.6,537.4 572.3,538.5 570.41,535.42 567.9,534.1 567.84,531.84 567.71,529.39 566.8,527.5 564.46,527.52 562.4,526.4 560.95,528.62 560.2,530.8 558.14,529.91 554.7,529.7 554.47,527.49 551.61,525.75 550.3,524.2 552.5,522.49 552.5,519.8 554.72,517.14 558,516.5 559.93,514.4 561.3,512.1 562.15,510.09ZM588.2,508 589.85,505.41 590.9,502.6 592.76,500.85 593,498.3 592.72,496.02 594.6,494 595.2,491.3 596.9,494.2 597.14,496.94 596.2,499.4 594.39,501.27 594.6,503.7 594.42,505.56 593,508 591.4,509.6 589.2,509ZM579.6,496.7 582.3,494 584.17,493.35 586.6,492.4 589.8,490.2 592.5,488.6 591.4,491.8 589.78,493.72 588.7,495.1 586.6,497.2 585.5,499.9 582.3,500.4 580.6,498.3ZM587.6,476.2 590.9,475.7 593,477.8 594.1,481.1 591.9,483.8 590.22,484.02 587.6,484.3 584.4,483.2 584.2,481.6 587.1,481.6 588.2,478.9ZM584.9,444.5 585.68,442.38 586,440.2 586.64,438.21 587.6,435.9 588.86,434.58 590.9,433.2 592.76,432.12 595.2,431.6 597.12,432.08 598.9,430.3 600,432.7 598.4,435.9 596.2,439.1 594.47,440.01 593,441.8 590.66,443.11 588.7,444.5 585.5,445.6ZM576.3,459 577.5,457.03 576.9,454.2 576.29,451.73 578,449.9 580.1,446.7 582.8,444.5 582.24,445.94 582.3,448.8 582.15,451.77 580.6,453.1 579.55,455.11 579,457.4 577.83,459.28 578,461.7 576.3,461.7ZM636.6,428.4 638.2,425.2 640.9,423 643.5,422.5 646.2,424.1 645.7,427.3 643.5,430.5 640.9,431.6 638.2,431.1ZM671.5,391.8 672.6,389.1 674.7,387.5 677.4,386.5 678,388.6 676.9,391.8 674.7,394 672.6,394ZM577.4,476.8 581.2,474.6 584.9,473.5 585.5,474.6 581.7,476.2 578,477.8ZM564.5,439.1 566.7,437.5 567.2,438.6 565.6,440ZM595.7,503.7 596.5,498.3 597.7,497.7 598.2,503.7 597.1,506.9ZM593.7,563.8 596.6,559.4 599.9,560 598.8,564.9 595.5,566Z"/>
<path class="c" fill="#fff" d="M1163.7,842 1160.87,842.31 1157.8,843.7 1154.83,843.78 1152.55,844.3 1150.1,844.4 1147.76,846.01 1146.21,847.01 1143.4,847.9 1141.07,848.39 1139.97,850.4 1138.3,852.1 1136.48,853.5 1135.43,855.03 1134.1,857.2 1131.2,858.78 1129.8,861.3 1127.87,862.65 1125.6,864.3 1124.4,866.21 1121.4,868.1 1120.87,870.14 1118.88,871.65 1117.5,873.6 1118.8,874.5 1120.23,871.99 1122.03,869.99 1123.9,867.7 1127.3,866.4 1129.2,864.61 1131.5,865.2 1134.62,863.68 1137.4,864.3 1139.62,863.59 1141.67,861.45 1144.2,861.8 1145.62,860.85 1149.01,861.5 1151,860.1 1154.38,859.51 1156.94,858.97 1159.5,858.4 1162.07,858.33 1163.93,857.01 1166.2,856.7 1163.89,855.67 1162,854.2 1163.41,852.57 1164.5,850.8 1166.82,848.5 1169.6,848.3 1171.92,848.27 1173.8,845.7 1170.5,844.86 1167.9,844.4 1165.05,843.94Z"/>
<path class="c" fill="#fff" d="M1052.8,919.4 1054.87,918.82 1057.3,918.41 1059.6,918.5 1062.24,920.13 1064.63,919.94 1066.3,921 1068.5,922.28 1070.09,924.13 1072.3,925.3 1074.09,925.96 1075.66,927.14 1077.3,929.5 1074.8,930 1071.39,928.91 1069.7,926.1 1066.91,924.57 1063.8,923.6 1060.22,923.82 1057.9,921.9 1055.77,921.06 1052.8,920.5Z"/>
<path class="c" fill="#fff" d="M790.9,495.5 793.7,492.9 797.5,492.4 798.4,495.5 795.9,498.4 793.7,496.8 792.2,499Z"/>
<path class="c" fill="#fff" d="M807.4,331.1 809.6,329.5 811.66,328.03 814.06,327.55 816,326.8 817.7,324.71 820.3,323.5 822.3,322.23 824.1,321.4 823.5,323.5 820.72,325.53 819.2,326.8 817.83,328.94 817.1,331.1 814.85,333.22 811.92,331.81 810.1,333.8 807.4,332.7Z"/>
<path class="c" fill="#fff" d="M712.2,619.7 716.4,620.9 717.7,623.1 716,622.4 712.6,620.8Z"/>
<path class="c" fill="#fff" d="M652.9,839.2 655.5,837.9 658.1,839.6 657.3,842.3 653.7,841.9Z"/>
<path class="l" d="M1230,693.3 1227.32,692.14 1224.5,691.1 1222.57,691.7 1220.12,691.33 1217.9,692.2 1215.68,692.89 1213.78,693.59 1211.3,694.4 1208,695.5"/>
<path class="l" d="M961.7,502.3 961.54,505.05 962.58,507.64 962.5,510.8 962.31,513.51 963.41,515.96 963.7,518.4 964.46,520.93 962.9,522.8"/>
<path class="l" d="M1162.8,836.2 1163.78,838.72 1162.4,840.6 1162.4,842.58 1163.3,844.6"/>
<path class="dot" d="M788.7,332.8h0M812.9,309.8h0M749.5,362.4h0M799.6,322.3h0M820.9,295.4h0M845.2,242.5h0M763.2,351.8h0M767.9,346.5h0M814.8,308.1h0M825.7,289h0M806.2,321.4h0M776.5,341.8h0M830.9,280.6h0M799,323.7h0M750.7,362.8h0M838.5,258.6h0M818.6,304.5h0M805.7,317.8h0M822.8,292h0M794.6,327.1h0M766,349.6h0M761.1,353.3h0M755.2,358.7h0M832.7,265.8h0M792.5,328.4h0M767.3,348h0M818,302.4h0M794.8,329.5h0M811.6,310.9h0M838.8,254.2h0M796.5,327.5h0M753.3,360h0M789.8,331.8h0M756.6,356.3h0M821.2,299h0M795.1,331.6h0M805.4,317.8h0M791.5,331.2h0M747.7,363.3h0M815.6,310.7h0M835.8,259.2h0M765.2,348.3h0M789.8,334.4h0M836.2,261.5h0M773.9,341.7h0M749.4,365.5h0M843,246.4h0M841.5,245h0M771.3,347.3h0M835.9,264.3h0M755.9,357.4h0M829.5,278.5h0M788.9,331.4h0M797.6,324.2h0M762.4,353.6h0M763.1,349.7h0M790.2,329.5h0M842.4,243.5h0M802.5,321.2h0M777.6,340.9h0M778,340.6h0M792,331.6h0M799.8,323.2h0M813.6,311.5h0M745.4,367h0M828.4,281.7h0M813.6,306.3h0M778.5,341.1h0M816.2,305.2h0M820.7,299.2h0M804.7,321.5h0M827.4,284.4h0M815.3,304.3h0M758.9,352.2h0M754.2,359.1h0M763.8,348h0M835.9,256.8h0M799.1,327.2h0M765.3,348.4h0M771,345h0M814.3,306.7h0M820.6,298.3h0M830,270.1h0M749.2,361.4h0M800.8,322.4h0M762.3,349.3h0M757.6,357.4h0M753,358.3h0M753.3,357.3h0M805.6,321.8h0M764.5,388.1h0M750.1,384.8h0M757.2,389.5h0M746.1,406.6h0M768.2,388.3h0M764.1,385.3h0M745.8,424.4h0M744.1,391.3h0M750.5,389.8h0M743.4,391.2h0M744.2,380h0M747.2,382.7h0M761.3,389h0M757.2,388.3h0M750.5,449.7h0M755.7,389.7h0M744.1,403.9h0M746.1,370.1h0M745.9,376h0M758,408h0M754.8,414.3h0M753.5,451h0M745.3,376.9h0M751.5,415.3h0M746.2,408.7h0M756.7,408h0M769.9,387.1h0M749.1,384.9h0M762.9,403.5h0M745.5,419.9h0M764.5,407.6h0M746.9,380.8h0M750.9,414.8h0M744.9,404.8h0M880.3,170.4h0M887.5,166.6h0M860.6,209.9h0M884.2,163.4h0M868.1,196.2h0M899.2,163.8h0M889.3,174.6h0M838.1,211.7h0M842.2,216.2h0M891.5,177h0M843.4,207h0M872.9,203.1h0M840.9,218.7h0M873.9,202.1h0M897.9,176.1h0M857.4,190.4h0M853.4,191h0M848.8,213.7h0M849.2,207.8h0M856.1,189.4h0M880.2,171.8h0M891.2,163.2h0M885,168h0M897.8,177.7h0M850.8,201.5h0M881,167h0M834.9,222.3h0M874.9,196.8h0M862.6,193.5h0M851,196.2h0M871.7,178.2h0M861.2,185.4h0M861.1,208.4h0M875.1,192.2h0M853.9,206.2h0M899.9,168.4h0M866.8,205h0M876,179.7h0M891.4,173.4h0M849.2,215.4h0M898.8,174.1h0M862.6,195.8h0M844.2,207.7h0M844.8,216.8h0M848.7,215.6h0M859.4,186.3h0M850.5,203h0M896.4,167h0M898.8,167.2h0M872.7,193.1h0M880.5,162h0M850.9,195.8h0M888.6,178.6h0M902,166.6h0M841.1,211.5h0M872.7,195.3h0M879.9,163.5h0M838.4,209.5h0M861.1,210.1h0M888.4,163.3h0M570.4,466.6h0M574.2,462.8h0M589.2,466h0M590.3,469.2h0M585.5,489.1h0M645.2,418.2h0M651.6,419.2h0M648.4,422.5h0M648.4,425.7h0M642.5,432.2h0M639.8,433.2h0M673.1,397.7h0M672,403.1h0M664.5,396.7h0M659.1,401h0M662.4,416.6h0M608.1,416h0M591.9,447.7h0M575.3,449.4h0M734.2,580.3h0M736.3,578.2h0M738.4,577.8h0M744.3,576.9h0M745.6,577.4h0M752,576.5h0M756.2,575.7h0M757.7,575.2h0M760,574.4h0M762.5,573.5h0M768,571.9h0M769.3,572.3h0M771.4,571h0M772.9,571.4h0M774.8,570.8h0M776.1,571.2h0M710.5,624.3h0M713.9,625.2h0M716.4,625.6h0M988.5,904.1h0M991.9,902.4h0M1004.5,918.5h0M1016.4,934.6h0M1061.3,910.9h0M1065.5,909.7h0M1069.7,910h0M1073.1,908.4h0M1077.3,905h0M1079.9,902.4h0M1096,895.7h0M1110.4,916h0M1114.6,883.8h0M1082.4,949h0M1092.6,949h0M1098.5,945.6h0M1085,964.2h0M1091.7,964.2h0M1096.8,965.1h0M1105.3,965.1h0M1113.7,961.7h0M1116.3,969.3h0M1124.8,968.5h0M1133.2,950.7h0M1135.8,960h0M1142.5,965.1h0M1149.3,957.4h0M1154.4,960h0M1159.5,963.4h0M1077.3,990.5h0M1151,987.1h0M1123.9,987.9h0M1117.1,993h0M1156.1,855.9h0M1139.1,858.4h0M1142.5,860.1h0M1077.2,990.1h0M1096.7,1012.1h0M1123,988h0M1117,992.8h0M1150.9,987.2h0M1073,938.9h0M1072.2,944.9h0M1075.6,952.5h0M1084,949.1h0M1084.9,964.3h0M1092.5,964.3h0M1090.8,944h0M1093.3,949.1h0M1095,954.2h0M1100.9,958.4h0M1103.5,945.7h0M1099.3,942.3h0M1106.9,941.5h0M1110.3,944h0M1108.6,956.7h0M1106,965.2h0M1113.6,961.8h0M1116.2,968.6h0M1123.8,967.7h0M1123,955.9h0M1121.3,949.9h0M1132.3,950.8h0M1133.1,960.1h0M1134.8,961.8h0M1142.4,965.2h0M1150.9,957.6h0M1155.1,959.3h0M1160.2,964.3h0M1149.2,950.8h0M1146.7,954.2h0M1143.3,947.4h0M1138.2,940.6h0M1134.8,941.5h0M1132.3,936.4h0M1141.6,936.4h0M1162.7,952.5h0M1158.5,949.9h0M912.8,833.5h0M918.7,832.3h0M919.9,834.1h0M933.5,838.3h0M943,837.1h0M888.5,798.5h0M891.4,800.9h0M893.8,803.9h0M896.8,806.8h0M899.7,809.8h0M903.3,814h0M910.4,818.1h0M903.9,815.1h0M804.9,837.2h0M809.3,848.7h0M813.7,854.2h0M824.7,853.3h0M852.7,814.1h0M854.4,864.1h0M882,892.2h0M887.9,895.5h0M891.9,894h0M870.3,942.2h0M894.1,944.6h0M897.4,944h0M904,944.6h0M905.5,947.3h0M909.9,938h0M848.9,960.9h0M854,961.6h0M854.4,959.4h0M847.8,990.2h0M866.1,1012.2h0M776.3,885.6h0M774.1,931.9h0M777,933h0M777.9,936.7h0M549.9,637.2h0M560.9,677.7h0M570.8,682.7h0M586.8,710.2h0M584,703.2h0M598.7,728.5h0M601.6,721.7h0M739.1,836.1h0M742.4,836.1h0M805.2,836.8h0M499.2,981.4h0M544.8,1004.9h0M672,926.4h0M641.2,934.5h0M644.1,935.4h0M632.4,886.7h0M501.9,581.4h0M515.1,531.9h0M631.8,635.7h0M550.3,636.4h0M937.6,401.4h0M950.3,399h0M937.1,400.3h0M947.2,403.4h0M938.4,397.4h0M948.7,401.7h0M952.1,402.7h0M944,399.8h0M954.5,399.9h0M940.2,397.5h0M945,400.8h0M942.7,400.3h0M946.1,402.4h0M950.8,401h0M935.9,402h0M936.8,400h0M936.5,400.4h0M939.9,401h0M954.7,400.4h0M949,397.1h0M942.8,402.3h0M944,401.4h0M945.1,397.7h0M947.8,398.2h0M953.4,399.3h0M948.5,400.4h0M950,398.8h0M950.3,400.1h0M951.5,402.1h0M945.3,398.3h0M958.6,401.3h0M961.5,398.9h0M957.7,401.5h0M956.4,400.5h0M956,398.1h0M950.9,398.7h0M957.5,404h0M959.2,402.9h0M958.6,402h0M956.1,402.3h0M961.8,399h0M952.9,404.6h0M956.3,402.9h0M958.8,396.6h0M961.3,403h0M956,402.2h0M955.8,397.2h0M954.8,401h0M959.9,402h0M955.5,403.9h0M952,402.3h0M960,399h0M949.1,397.7h0M956.3,401.5h0M960.9,397.3h0M955.3,401.9h0M954.8,394.7h0M957.7,404.8h0M959.4,397.2h0M953.6,400.5h0M940,403.9h0M936.2,405.7h0M935.7,406h0M934.2,402.2h0M937.5,405.5h0M937.5,403.7h0M932.3,402.1h0M934.4,402.1h0M942.9,412.8h0M960.1,407.4h0M974.6,406.9h0M990.2,408.5h0M995.6,406.3h0M1003.1,392.4h0M930.5,333.2h0M935.4,333.2h0M928.9,449.4h0M990.8,445.6h0M982.7,454.7h0M976.8,425.7h0M978.4,435.9h0M971.4,448.3h0M899.1,452h0M896.1,383.8h0M895.1,373h0M897.2,357.4h0M943.4,365.5h0M926.2,423.5h0M923,414.9h0M922.7,423.4h0M923.1,424.9h0M920.7,425h0M922.3,427.8h0M920.4,423.8h0M919.1,429.2h0M924.3,424h0M920.4,420.3h0M921.7,425.3h0M924.9,425.3h0M920.3,418.6h0M924.2,425.3h0M918.3,425.2h0M919.8,430.5h0M917.8,434.8h0M915.2,428.7h0M915.2,429.3h0M916.4,428.8h0M913.7,436.3h0M918.3,430.6h0M912.6,435.3h0M917.2,430.6h0M914,431.3h0M913.1,431.4h0M918,435h0M919,433h0M1006.7,387h0M993,396.9h0M973.8,405.8h0M1005.3,388.8h0M983.6,399.8h0M982.6,401.7h0M993.6,396.8h0M982.6,402.9h0M1013.8,382.7h0M979.7,404.5h0M1005.8,387.9h0M993,394.8h0M1001.4,390.8h0M1017.8,379.8h0M1013.3,382.7h0M986.4,398.8h0M994.1,393.7h0M979,402.6h0M1002.8,391.3h0M1004,387.1h0M973.2,405.8h0M985.6,399.7h0M1001.4,391.6h0M1015.4,382.3h0M978.9,404.7h0M991.1,397.9h0"/>
</g>
</svg>
<div id="legend">
<div class="t">Ratio range</div>
<div class="r" style="top:32.6px"><div class="s" style="background:#70a56e"></div><div class="x">Low to zero gas</div></div>
<div class="r" style="top:55.7px"><div class="s" style="background:#4050a1"></div><div class="x">&lt; 1.5</div></div>
<div class="r" style="top:78.8px"><div class="s" style="background:#bfcde8"></div><div class="x">1.5 - 2.5</div></div>
<div class="r" style="top:101.9px"><div class="s" style="background:#e98d2f"></div><div class="x">2.5 - 3.5</div></div>
<div class="r" style="top:125.0px"><div class="s" style="background:#e2623e"></div><div class="x">&gt; 3.5</div></div>
<div class="r" style="top:148.1px"><div class="s" style="background:#fff;box-sizing:border-box;border:1.4px solid #000;left:-0.6px;top:-0.4px;width:34.4px;height:12.4px"></div><div class="x">No data</div></div>
</div>
<div id="src">Source: Eurostat, UK Heat Pump Association (HPA),<br>Polish Organisation of Heat Pump Technology Development (PORT PC),<br>Swiss heat pump association (FWS).<br>Includes all taxes and levies.</div>
<svg id="logo" width="1772" height="1181" viewBox="0 0 1772 1181">
<g fill="#363466">
<polygon points="1688.40,44.50 1689.55,47.82 1693.06,47.89 1690.25,50.00 1691.28,53.36 1688.40,51.35 1685.52,53.36 1686.55,50.00 1683.74,47.89 1687.25,47.82"/>
<polygon points="1700.80,40.40 1701.95,43.72 1705.46,43.79 1702.65,45.90 1703.68,49.26 1700.80,47.25 1697.92,49.26 1698.95,45.90 1696.14,43.79 1699.65,43.72"/>
<polygon points="1713.00,44.20 1714.15,47.52 1717.66,47.59 1714.85,49.70 1715.88,53.06 1713.00,51.05 1710.12,53.06 1711.15,49.70 1708.34,47.59 1711.85,47.52"/>
<polygon points="1721.80,53.00 1722.95,56.32 1726.46,56.39 1723.65,58.50 1724.68,61.86 1721.80,59.85 1718.92,61.86 1719.95,58.50 1717.14,56.39 1720.65,56.32"/>
<polygon points="1725.50,65.90 1726.65,69.22 1730.16,69.29 1727.35,71.40 1728.38,74.76 1725.50,72.75 1722.62,74.76 1723.65,71.40 1720.84,69.29 1724.35,69.22"/>
<polygon points="1721.80,79.00 1722.95,82.32 1726.46,82.39 1723.65,84.50 1724.68,87.86 1721.80,85.85 1718.92,87.86 1719.95,84.50 1717.14,82.39 1720.65,82.32"/>
<polygon points="1712.60,87.40 1713.75,90.72 1717.26,90.79 1714.45,92.90 1715.48,96.26 1712.60,94.25 1709.72,96.26 1710.75,92.90 1707.94,90.79 1711.45,90.72"/>
<path fill="none" stroke="#363466" stroke-width="4.4" d="M1543,76.2 C1551,73.4 1557,70.5 1564,70.7 S1578,76.7 1585,76.7 S1592,75.7 1595.5,75.1"/>
<path fill="none" stroke="#363466" stroke-width="4.4" d="M1543,85.2 C1551,82.4 1557,79.5 1564,79.7 S1578,85.7 1585,85.7 S1592,84.7 1595.5,84.1"/>
<path fill="none" stroke="#363466" stroke-width="4.4" d="M1543,94.2 C1551,91.4 1557,88.5 1564,88.7 S1578,94.7 1585,94.7 S1592,93.7 1595.5,93.1"/>
<text x="1597.5" y="95" font-family="Liberation Sans, sans-serif" font-weight="bold" font-size="46.5" letter-spacing="-1.4">ehpa</text>
<text x="1661" y="65.3" font-family="Liberation Sans, sans-serif" font-style="italic" font-weight="bold" font-size="10.2">25 years</text>
</g>
</svg>
</body></html>
